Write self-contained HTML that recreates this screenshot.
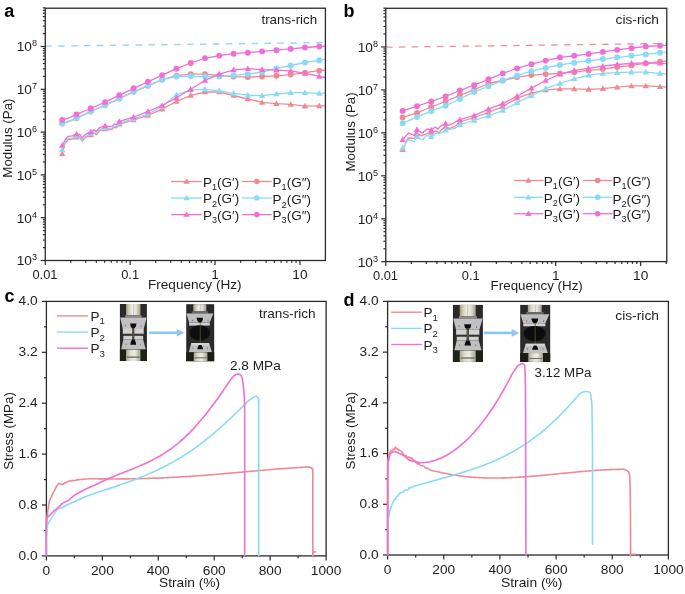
<!DOCTYPE html>
<html><head><meta charset="utf-8"><style>
html,body{margin:0;padding:0;background:#fff;}
svg{display:block;will-change:transform;}
text{font-family:"Liberation Sans", sans-serif;}
</style></head><body>
<svg width="685" height="594" viewBox="0 0 685 594">
<rect width="685" height="594" fill="#fff"/>
<defs>
<clipPath id="ca"><rect x="45.25" y="8.2" width="280.15" height="252.3"/></clipPath>
<clipPath id="cb"><rect x="385.8" y="8.3" width="280.99999999999994" height="253.3"/></clipPath>
</defs>
<line x1="45.25" y1="46.2" x2="325.4" y2="42.6" stroke="#8ED9F6" stroke-width="1.4" stroke-dasharray="6.45 6.45"/>
<line x1="386.2" y1="47.2" x2="666.8" y2="43.5" stroke="#EE9098" stroke-width="1.3" stroke-dasharray="6.5 6.2"/>
<polyline points="62.2,153.8 65.1,143 68.2,139.5 72.6,139 76.48,137.2 80,137.7 82.2,141.1 85.3,137.7 88.8,135.8 90.76,134.8 93.6,132.9 96.2,134.7 99.7,130.7 105.04,128.8 108.9,129.8 112,129.4 114.5,127.1 116.5,127.8 119.32,124.2 133.6,119.8 147.88,115.4 162.16,109.1 176.44,101.5 190.72,95.3 205,92 219.28,92 233.56,95.5 247.84,99 262.12,102.4 276.4,103.6 290.68,104.4 304.96,106.1 319.24,105.8 325.4,105.8" fill="none" stroke="#EF8A92" stroke-width="1.3" stroke-linejoin="round" stroke-linecap="round" clip-path="url(#ca)"/>
<polygon points="62.2,150.55 65.4,156.15 59,156.15" fill="#EF8A92"/>
<polygon points="76.48,133.95 79.68,139.55 73.28,139.55" fill="#EF8A92"/>
<polygon points="90.76,131.55 93.96,137.15 87.56,137.15" fill="#EF8A92"/>
<polygon points="105.04,125.55 108.24,131.15 101.84,131.15" fill="#EF8A92"/>
<polygon points="119.32,120.95 122.52,126.55 116.12,126.55" fill="#EF8A92"/>
<polygon points="133.6,116.55 136.8,122.15 130.4,122.15" fill="#EF8A92"/>
<polygon points="147.88,112.15 151.08,117.75 144.68,117.75" fill="#EF8A92"/>
<polygon points="162.16,105.85 165.36,111.45 158.96,111.45" fill="#EF8A92"/>
<polygon points="176.44,98.25 179.64,103.85 173.24,103.85" fill="#EF8A92"/>
<polygon points="190.72,92.05 193.92,97.65 187.52,97.65" fill="#EF8A92"/>
<polygon points="205,88.75 208.2,94.35 201.8,94.35" fill="#EF8A92"/>
<polygon points="219.28,88.75 222.48,94.35 216.08,94.35" fill="#EF8A92"/>
<polygon points="233.56,92.25 236.76,97.85 230.36,97.85" fill="#EF8A92"/>
<polygon points="247.84,95.75 251.04,101.35 244.64,101.35" fill="#EF8A92"/>
<polygon points="262.12,99.15 265.32,104.75 258.92,104.75" fill="#EF8A92"/>
<polygon points="276.4,100.35 279.6,105.95 273.2,105.95" fill="#EF8A92"/>
<polygon points="290.68,101.15 293.88,106.75 287.48,106.75" fill="#EF8A92"/>
<polygon points="304.96,102.85 308.16,108.45 301.76,108.45" fill="#EF8A92"/>
<polygon points="319.24,102.55 322.44,108.15 316.04,108.15" fill="#EF8A92"/>
<polyline points="62.2,123.5 67.8,121.8 76.48,118.3 90.76,111.5 105.04,105.3 119.32,98.6 133.6,91.8 147.88,85.8 162.16,79.6 176.44,75.6 190.72,74.1 205,74.1 219.28,75.5 233.56,76.6 247.84,77.1 262.12,76.5 276.4,75.8 290.68,74.6 304.96,72.6 319.24,70.7 325.4,70.1" fill="none" stroke="#EF8A92" stroke-width="1.3" stroke-linejoin="round" stroke-linecap="round" clip-path="url(#ca)"/>
<circle cx="62.2" cy="123.5" r="2.95" fill="#EF8A92"/>
<circle cx="76.48" cy="118.3" r="2.95" fill="#EF8A92"/>
<circle cx="90.76" cy="111.5" r="2.95" fill="#EF8A92"/>
<circle cx="105.04" cy="105.3" r="2.95" fill="#EF8A92"/>
<circle cx="119.32" cy="98.6" r="2.95" fill="#EF8A92"/>
<circle cx="133.6" cy="91.8" r="2.95" fill="#EF8A92"/>
<circle cx="147.88" cy="85.8" r="2.95" fill="#EF8A92"/>
<circle cx="162.16" cy="79.6" r="2.95" fill="#EF8A92"/>
<circle cx="176.44" cy="75.6" r="2.95" fill="#EF8A92"/>
<circle cx="190.72" cy="74.1" r="2.95" fill="#EF8A92"/>
<circle cx="205" cy="74.1" r="2.95" fill="#EF8A92"/>
<circle cx="219.28" cy="75.5" r="2.95" fill="#EF8A92"/>
<circle cx="233.56" cy="76.6" r="2.95" fill="#EF8A92"/>
<circle cx="247.84" cy="77.1" r="2.95" fill="#EF8A92"/>
<circle cx="262.12" cy="76.5" r="2.95" fill="#EF8A92"/>
<circle cx="276.4" cy="75.8" r="2.95" fill="#EF8A92"/>
<circle cx="290.68" cy="74.6" r="2.95" fill="#EF8A92"/>
<circle cx="304.96" cy="72.6" r="2.95" fill="#EF8A92"/>
<circle cx="319.24" cy="70.7" r="2.95" fill="#EF8A92"/>
<polyline points="62.2,149.9 65.1,141.8 68.2,138.3 72.6,137.8 76.48,136 80,136.5 82.2,139.9 85.3,136.5 88.8,134.6 90.76,133.6 93.6,131.7 96.2,133.5 99.7,129.5 105.04,127.6 108.9,128.6 112,128.2 114.5,125.9 116.5,126.6 119.32,123 133.6,118.8 147.88,114 162.16,106.6 176.44,94.8 190.72,89.8 205,89.3 219.28,90.6 233.56,93.3 247.84,95.2 262.12,95.7 276.4,94 290.68,92.6 304.96,92.6 319.24,93.3 325.4,93.1" fill="none" stroke="#89DAF7" stroke-width="1.3" stroke-linejoin="round" stroke-linecap="round" clip-path="url(#ca)"/>
<polygon points="62.2,146.65 65.4,152.25 59,152.25" fill="#89DAF7"/>
<polygon points="76.48,132.75 79.68,138.35 73.28,138.35" fill="#89DAF7"/>
<polygon points="90.76,130.35 93.96,135.95 87.56,135.95" fill="#89DAF7"/>
<polygon points="105.04,124.35 108.24,129.95 101.84,129.95" fill="#89DAF7"/>
<polygon points="119.32,119.75 122.52,125.35 116.12,125.35" fill="#89DAF7"/>
<polygon points="133.6,115.55 136.8,121.15 130.4,121.15" fill="#89DAF7"/>
<polygon points="147.88,110.75 151.08,116.35 144.68,116.35" fill="#89DAF7"/>
<polygon points="162.16,103.35 165.36,108.95 158.96,108.95" fill="#89DAF7"/>
<polygon points="176.44,91.55 179.64,97.15 173.24,97.15" fill="#89DAF7"/>
<polygon points="190.72,86.55 193.92,92.15 187.52,92.15" fill="#89DAF7"/>
<polygon points="205,86.05 208.2,91.65 201.8,91.65" fill="#89DAF7"/>
<polygon points="219.28,87.35 222.48,92.95 216.08,92.95" fill="#89DAF7"/>
<polygon points="233.56,90.05 236.76,95.65 230.36,95.65" fill="#89DAF7"/>
<polygon points="247.84,91.95 251.04,97.55 244.64,97.55" fill="#89DAF7"/>
<polygon points="262.12,92.45 265.32,98.05 258.92,98.05" fill="#89DAF7"/>
<polygon points="276.4,90.75 279.6,96.35 273.2,96.35" fill="#89DAF7"/>
<polygon points="290.68,89.35 293.88,94.95 287.48,94.95" fill="#89DAF7"/>
<polygon points="304.96,89.35 308.16,94.95 301.76,94.95" fill="#89DAF7"/>
<polygon points="319.24,90.05 322.44,95.65 316.04,95.65" fill="#89DAF7"/>
<polyline points="62.2,123.3 67.8,121.6 76.48,118.1 90.76,111.3 105.04,105.1 119.32,98.4 133.6,91.6 147.88,85.6 162.16,79.7 176.44,76.5 190.72,76.3 205,76.5 219.28,76.6 233.56,75.4 247.84,74.1 262.12,72.1 276.4,68.4 290.68,65.5 304.96,62.5 319.24,60.3 325.4,59.1" fill="none" stroke="#89DAF7" stroke-width="1.3" stroke-linejoin="round" stroke-linecap="round" clip-path="url(#ca)"/>
<circle cx="62.2" cy="123.3" r="2.95" fill="#89DAF7"/>
<circle cx="76.48" cy="118.1" r="2.95" fill="#89DAF7"/>
<circle cx="90.76" cy="111.3" r="2.95" fill="#89DAF7"/>
<circle cx="105.04" cy="105.1" r="2.95" fill="#89DAF7"/>
<circle cx="119.32" cy="98.4" r="2.95" fill="#89DAF7"/>
<circle cx="133.6" cy="91.6" r="2.95" fill="#89DAF7"/>
<circle cx="147.88" cy="85.6" r="2.95" fill="#89DAF7"/>
<circle cx="162.16" cy="79.7" r="2.95" fill="#89DAF7"/>
<circle cx="176.44" cy="76.5" r="2.95" fill="#89DAF7"/>
<circle cx="190.72" cy="76.3" r="2.95" fill="#89DAF7"/>
<circle cx="205" cy="76.5" r="2.95" fill="#89DAF7"/>
<circle cx="219.28" cy="76.6" r="2.95" fill="#89DAF7"/>
<circle cx="233.56" cy="75.4" r="2.95" fill="#89DAF7"/>
<circle cx="247.84" cy="74.1" r="2.95" fill="#89DAF7"/>
<circle cx="262.12" cy="72.1" r="2.95" fill="#89DAF7"/>
<circle cx="276.4" cy="68.4" r="2.95" fill="#89DAF7"/>
<circle cx="290.68" cy="65.5" r="2.95" fill="#89DAF7"/>
<circle cx="304.96" cy="62.5" r="2.95" fill="#89DAF7"/>
<circle cx="319.24" cy="60.3" r="2.95" fill="#89DAF7"/>
<polyline points="62.2,145.5 65.1,139.8 68.2,136.3 72.6,135.8 76.48,134.1 80,134.5 82.2,137.9 85.3,134.5 88.8,132.6 90.76,131.9 93.6,129.7 96.2,131.5 99.7,127.5 105.04,125.8 108.9,126.6 112,126.2 114.5,123.9 116.5,124.6 119.32,121.4 133.6,117.2 147.88,111.5 162.16,105.4 176.44,97.8 190.72,89.3 205,80.5 219.28,74.1 233.56,69.8 247.84,68.7 262.12,69.6 276.4,70.1 290.68,70.9 304.96,73.3 319.24,76.3 325.4,77.5" fill="none" stroke="#F26ED5" stroke-width="1.3" stroke-linejoin="round" stroke-linecap="round" clip-path="url(#ca)"/>
<polygon points="62.2,142.25 65.4,147.85 59,147.85" fill="#F26ED5"/>
<polygon points="76.48,130.85 79.68,136.45 73.28,136.45" fill="#F26ED5"/>
<polygon points="90.76,128.65 93.96,134.25 87.56,134.25" fill="#F26ED5"/>
<polygon points="105.04,122.55 108.24,128.15 101.84,128.15" fill="#F26ED5"/>
<polygon points="119.32,118.15 122.52,123.75 116.12,123.75" fill="#F26ED5"/>
<polygon points="133.6,113.95 136.8,119.55 130.4,119.55" fill="#F26ED5"/>
<polygon points="147.88,108.25 151.08,113.85 144.68,113.85" fill="#F26ED5"/>
<polygon points="162.16,102.15 165.36,107.75 158.96,107.75" fill="#F26ED5"/>
<polygon points="176.44,94.55 179.64,100.15 173.24,100.15" fill="#F26ED5"/>
<polygon points="190.72,86.05 193.92,91.65 187.52,91.65" fill="#F26ED5"/>
<polygon points="205,77.25 208.2,82.85 201.8,82.85" fill="#F26ED5"/>
<polygon points="219.28,70.85 222.48,76.45 216.08,76.45" fill="#F26ED5"/>
<polygon points="233.56,66.55 236.76,72.15 230.36,72.15" fill="#F26ED5"/>
<polygon points="247.84,65.45 251.04,71.05 244.64,71.05" fill="#F26ED5"/>
<polygon points="262.12,66.35 265.32,71.95 258.92,71.95" fill="#F26ED5"/>
<polygon points="276.4,66.85 279.6,72.45 273.2,72.45" fill="#F26ED5"/>
<polygon points="290.68,67.65 293.88,73.25 287.48,73.25" fill="#F26ED5"/>
<polygon points="304.96,70.05 308.16,75.65 301.76,75.65" fill="#F26ED5"/>
<polygon points="319.24,73.05 322.44,78.65 316.04,78.65" fill="#F26ED5"/>
<polyline points="62.2,120 67.8,118.4 76.48,114.4 90.76,108.5 105.04,102.1 119.32,95.2 133.6,88.3 147.88,81.8 162.16,75.1 176.44,68.7 190.72,63 205,58.3 219.28,55.6 233.56,53.7 247.84,52.7 262.12,51.4 276.4,50.2 290.68,48.9 304.96,47.5 319.24,46.5 325.4,46.2" fill="none" stroke="#F26ED5" stroke-width="1.3" stroke-linejoin="round" stroke-linecap="round" clip-path="url(#ca)"/>
<circle cx="62.2" cy="120" r="2.95" fill="#F26ED5"/>
<circle cx="76.48" cy="114.4" r="2.95" fill="#F26ED5"/>
<circle cx="90.76" cy="108.5" r="2.95" fill="#F26ED5"/>
<circle cx="105.04" cy="102.1" r="2.95" fill="#F26ED5"/>
<circle cx="119.32" cy="95.2" r="2.95" fill="#F26ED5"/>
<circle cx="133.6" cy="88.3" r="2.95" fill="#F26ED5"/>
<circle cx="147.88" cy="81.8" r="2.95" fill="#F26ED5"/>
<circle cx="162.16" cy="75.1" r="2.95" fill="#F26ED5"/>
<circle cx="176.44" cy="68.7" r="2.95" fill="#F26ED5"/>
<circle cx="190.72" cy="63" r="2.95" fill="#F26ED5"/>
<circle cx="205" cy="58.3" r="2.95" fill="#F26ED5"/>
<circle cx="219.28" cy="55.6" r="2.95" fill="#F26ED5"/>
<circle cx="233.56" cy="53.7" r="2.95" fill="#F26ED5"/>
<circle cx="247.84" cy="52.7" r="2.95" fill="#F26ED5"/>
<circle cx="262.12" cy="51.4" r="2.95" fill="#F26ED5"/>
<circle cx="276.4" cy="50.2" r="2.95" fill="#F26ED5"/>
<circle cx="290.68" cy="48.9" r="2.95" fill="#F26ED5"/>
<circle cx="304.96" cy="47.5" r="2.95" fill="#F26ED5"/>
<circle cx="319.24" cy="46.5" r="2.95" fill="#F26ED5"/>
<polyline points="402.65,149.6 408.1,138 414.3,138.4 416.95,134 421.3,135.8 428.3,133.1 431.25,132.3 436.2,131 438.8,132.7 442.7,128.8 445.55,127 449.3,128.3 455,126.6 459.85,122 474.15,117.5 488.45,112.5 502.75,106.6 517.05,98.2 531.35,93.1 545.65,89.8 559.95,88.9 574.25,88.9 588.55,89.3 602.85,88.6 617.15,87.2 631.45,85.9 645.75,85.9 660.05,86.7 666.8,87.2" fill="none" stroke="#EF8A92" stroke-width="1.3" stroke-linejoin="round" stroke-linecap="round" clip-path="url(#cb)"/>
<polygon points="402.65,146.35 405.85,151.95 399.45,151.95" fill="#EF8A92"/>
<polygon points="416.95,130.75 420.15,136.35 413.75,136.35" fill="#EF8A92"/>
<polygon points="431.25,129.05 434.45,134.65 428.05,134.65" fill="#EF8A92"/>
<polygon points="445.55,123.75 448.75,129.35 442.35,129.35" fill="#EF8A92"/>
<polygon points="459.85,118.75 463.05,124.35 456.65,124.35" fill="#EF8A92"/>
<polygon points="474.15,114.25 477.35,119.85 470.95,119.85" fill="#EF8A92"/>
<polygon points="488.45,109.25 491.65,114.85 485.25,114.85" fill="#EF8A92"/>
<polygon points="502.75,103.35 505.95,108.95 499.55,108.95" fill="#EF8A92"/>
<polygon points="517.05,94.95 520.25,100.55 513.85,100.55" fill="#EF8A92"/>
<polygon points="531.35,89.85 534.55,95.45 528.15,95.45" fill="#EF8A92"/>
<polygon points="545.65,86.55 548.85,92.15 542.45,92.15" fill="#EF8A92"/>
<polygon points="559.95,85.65 563.15,91.25 556.75,91.25" fill="#EF8A92"/>
<polygon points="574.25,85.65 577.45,91.25 571.05,91.25" fill="#EF8A92"/>
<polygon points="588.55,86.05 591.75,91.65 585.35,91.65" fill="#EF8A92"/>
<polygon points="602.85,85.35 606.05,90.95 599.65,90.95" fill="#EF8A92"/>
<polygon points="617.15,83.95 620.35,89.55 613.95,89.55" fill="#EF8A92"/>
<polygon points="631.45,82.65 634.65,88.25 628.25,88.25" fill="#EF8A92"/>
<polygon points="645.75,82.65 648.95,88.25 642.55,88.25" fill="#EF8A92"/>
<polygon points="660.05,83.45 663.25,89.05 656.85,89.05" fill="#EF8A92"/>
<polyline points="402.65,117.5 416.95,112.9 431.25,107 445.55,101.5 459.85,95.3 474.15,89.7 488.45,83.5 502.75,80.5 517.05,77.1 531.35,75.1 545.65,74.1 559.95,73.4 574.25,72.2 588.55,70.4 602.85,69.1 617.15,67 631.45,65.4 645.75,63.3 660.05,61.6 666.8,61.1" fill="none" stroke="#EF8A92" stroke-width="1.3" stroke-linejoin="round" stroke-linecap="round" clip-path="url(#cb)"/>
<circle cx="402.65" cy="117.5" r="2.95" fill="#EF8A92"/>
<circle cx="416.95" cy="112.9" r="2.95" fill="#EF8A92"/>
<circle cx="431.25" cy="107" r="2.95" fill="#EF8A92"/>
<circle cx="445.55" cy="101.5" r="2.95" fill="#EF8A92"/>
<circle cx="459.85" cy="95.3" r="2.95" fill="#EF8A92"/>
<circle cx="474.15" cy="89.7" r="2.95" fill="#EF8A92"/>
<circle cx="488.45" cy="83.5" r="2.95" fill="#EF8A92"/>
<circle cx="502.75" cy="80.5" r="2.95" fill="#EF8A92"/>
<circle cx="517.05" cy="77.1" r="2.95" fill="#EF8A92"/>
<circle cx="531.35" cy="75.1" r="2.95" fill="#EF8A92"/>
<circle cx="545.65" cy="74.1" r="2.95" fill="#EF8A92"/>
<circle cx="559.95" cy="73.4" r="2.95" fill="#EF8A92"/>
<circle cx="574.25" cy="72.2" r="2.95" fill="#EF8A92"/>
<circle cx="588.55" cy="70.4" r="2.95" fill="#EF8A92"/>
<circle cx="602.85" cy="69.1" r="2.95" fill="#EF8A92"/>
<circle cx="617.15" cy="67" r="2.95" fill="#EF8A92"/>
<circle cx="631.45" cy="65.4" r="2.95" fill="#EF8A92"/>
<circle cx="645.75" cy="63.3" r="2.95" fill="#EF8A92"/>
<circle cx="660.05" cy="61.6" r="2.95" fill="#EF8A92"/>
<polyline points="402.65,148 408.1,139.7 414.3,141.9 416.95,136.6 420.4,138.8 423,139.3 426.5,135.3 431.25,136.6 436.2,133.1 438.8,133.6 443.2,131.8 445.55,130.1 449.3,129.6 455,128.3 459.85,124.7 474.15,120.5 488.45,115.9 502.75,110.5 517.05,102.7 531.35,95.7 545.65,88.6 559.95,83.5 574.25,78.8 588.55,75.1 602.85,73.4 617.15,72.6 631.45,72.1 645.75,72.1 660.05,73.3 666.8,74.1" fill="none" stroke="#89DAF7" stroke-width="1.3" stroke-linejoin="round" stroke-linecap="round" clip-path="url(#cb)"/>
<polygon points="402.65,144.75 405.85,150.35 399.45,150.35" fill="#89DAF7"/>
<polygon points="416.95,133.35 420.15,138.95 413.75,138.95" fill="#89DAF7"/>
<polygon points="431.25,133.35 434.45,138.95 428.05,138.95" fill="#89DAF7"/>
<polygon points="445.55,126.85 448.75,132.45 442.35,132.45" fill="#89DAF7"/>
<polygon points="459.85,121.45 463.05,127.05 456.65,127.05" fill="#89DAF7"/>
<polygon points="474.15,117.25 477.35,122.85 470.95,122.85" fill="#89DAF7"/>
<polygon points="488.45,112.65 491.65,118.25 485.25,118.25" fill="#89DAF7"/>
<polygon points="502.75,107.25 505.95,112.85 499.55,112.85" fill="#89DAF7"/>
<polygon points="517.05,99.45 520.25,105.05 513.85,105.05" fill="#89DAF7"/>
<polygon points="531.35,92.45 534.55,98.05 528.15,98.05" fill="#89DAF7"/>
<polygon points="545.65,85.35 548.85,90.95 542.45,90.95" fill="#89DAF7"/>
<polygon points="559.95,80.25 563.15,85.85 556.75,85.85" fill="#89DAF7"/>
<polygon points="574.25,75.55 577.45,81.15 571.05,81.15" fill="#89DAF7"/>
<polygon points="588.55,71.85 591.75,77.45 585.35,77.45" fill="#89DAF7"/>
<polygon points="602.85,70.15 606.05,75.75 599.65,75.75" fill="#89DAF7"/>
<polygon points="617.15,69.35 620.35,74.95 613.95,74.95" fill="#89DAF7"/>
<polygon points="631.45,68.85 634.65,74.45 628.25,74.45" fill="#89DAF7"/>
<polygon points="645.75,68.85 648.95,74.45 642.55,74.45" fill="#89DAF7"/>
<polygon points="660.05,70.05 663.25,75.65 656.85,75.65" fill="#89DAF7"/>
<polyline points="402.65,123.2 416.95,117.1 431.25,111.2 445.55,105.7 459.85,99 474.15,91.9 488.45,86.3 502.75,80.5 517.05,75.5 531.35,71.2 545.65,67.9 559.95,65 574.25,62.7 588.55,60.8 602.85,59 617.15,57.3 631.45,55.8 645.75,54.4 660.05,52.7 666.8,52.2" fill="none" stroke="#89DAF7" stroke-width="1.3" stroke-linejoin="round" stroke-linecap="round" clip-path="url(#cb)"/>
<circle cx="402.65" cy="123.2" r="2.95" fill="#89DAF7"/>
<circle cx="416.95" cy="117.1" r="2.95" fill="#89DAF7"/>
<circle cx="431.25" cy="111.2" r="2.95" fill="#89DAF7"/>
<circle cx="445.55" cy="105.7" r="2.95" fill="#89DAF7"/>
<circle cx="459.85" cy="99" r="2.95" fill="#89DAF7"/>
<circle cx="474.15" cy="91.9" r="2.95" fill="#89DAF7"/>
<circle cx="488.45" cy="86.3" r="2.95" fill="#89DAF7"/>
<circle cx="502.75" cy="80.5" r="2.95" fill="#89DAF7"/>
<circle cx="517.05" cy="75.5" r="2.95" fill="#89DAF7"/>
<circle cx="531.35" cy="71.2" r="2.95" fill="#89DAF7"/>
<circle cx="545.65" cy="67.9" r="2.95" fill="#89DAF7"/>
<circle cx="559.95" cy="65" r="2.95" fill="#89DAF7"/>
<circle cx="574.25" cy="62.7" r="2.95" fill="#89DAF7"/>
<circle cx="588.55" cy="60.8" r="2.95" fill="#89DAF7"/>
<circle cx="602.85" cy="59" r="2.95" fill="#89DAF7"/>
<circle cx="617.15" cy="57.3" r="2.95" fill="#89DAF7"/>
<circle cx="631.45" cy="55.8" r="2.95" fill="#89DAF7"/>
<circle cx="645.75" cy="54.4" r="2.95" fill="#89DAF7"/>
<circle cx="660.05" cy="52.7" r="2.95" fill="#89DAF7"/>
<polyline points="402.65,139.7 408.6,133 414.3,135.3 416.95,129.6 420.4,131.8 422.2,133.1 427.4,128.8 431.25,130.1 435.3,127 437.9,129.2 440.5,126.1 445.55,123.5 448.4,125.3 452,123.9 455,122.2 459.85,119.7 474.15,115.5 488.45,109.1 502.75,103.6 517.05,96.2 531.35,88.1 545.65,80.5 559.95,74.1 574.25,70.4 588.55,68.4 602.85,66.2 617.15,64.5 631.45,63.3 645.75,62.8 660.05,63.2 666.8,63.7" fill="none" stroke="#F26ED5" stroke-width="1.3" stroke-linejoin="round" stroke-linecap="round" clip-path="url(#cb)"/>
<polygon points="402.65,136.45 405.85,142.05 399.45,142.05" fill="#F26ED5"/>
<polygon points="416.95,126.35 420.15,131.95 413.75,131.95" fill="#F26ED5"/>
<polygon points="431.25,126.85 434.45,132.45 428.05,132.45" fill="#F26ED5"/>
<polygon points="445.55,120.25 448.75,125.85 442.35,125.85" fill="#F26ED5"/>
<polygon points="459.85,116.45 463.05,122.05 456.65,122.05" fill="#F26ED5"/>
<polygon points="474.15,112.25 477.35,117.85 470.95,117.85" fill="#F26ED5"/>
<polygon points="488.45,105.85 491.65,111.45 485.25,111.45" fill="#F26ED5"/>
<polygon points="502.75,100.35 505.95,105.95 499.55,105.95" fill="#F26ED5"/>
<polygon points="517.05,92.95 520.25,98.55 513.85,98.55" fill="#F26ED5"/>
<polygon points="531.35,84.85 534.55,90.45 528.15,90.45" fill="#F26ED5"/>
<polygon points="545.65,77.25 548.85,82.85 542.45,82.85" fill="#F26ED5"/>
<polygon points="559.95,70.85 563.15,76.45 556.75,76.45" fill="#F26ED5"/>
<polygon points="574.25,67.15 577.45,72.75 571.05,72.75" fill="#F26ED5"/>
<polygon points="588.55,65.15 591.75,70.75 585.35,70.75" fill="#F26ED5"/>
<polygon points="602.85,62.95 606.05,68.55 599.65,68.55" fill="#F26ED5"/>
<polygon points="617.15,61.25 620.35,66.85 613.95,66.85" fill="#F26ED5"/>
<polygon points="631.45,60.05 634.65,65.65 628.25,65.65" fill="#F26ED5"/>
<polygon points="645.75,59.55 648.95,65.15 642.55,65.15" fill="#F26ED5"/>
<polygon points="660.05,59.95 663.25,65.55 656.85,65.55" fill="#F26ED5"/>
<polyline points="402.65,110.9 416.95,106.2 431.25,101.5 445.55,96.4 459.85,90.5 474.15,85.2 488.45,79.3 502.75,73.4 517.05,68.4 531.35,64.2 545.65,60.6 559.95,57.4 574.25,55.8 588.55,53.9 602.85,51.9 617.15,49.9 631.45,48.2 645.75,46.5 660.05,45.7 666.8,45.2" fill="none" stroke="#F26ED5" stroke-width="1.3" stroke-linejoin="round" stroke-linecap="round" clip-path="url(#cb)"/>
<circle cx="402.65" cy="110.9" r="2.95" fill="#F26ED5"/>
<circle cx="416.95" cy="106.2" r="2.95" fill="#F26ED5"/>
<circle cx="431.25" cy="101.5" r="2.95" fill="#F26ED5"/>
<circle cx="445.55" cy="96.4" r="2.95" fill="#F26ED5"/>
<circle cx="459.85" cy="90.5" r="2.95" fill="#F26ED5"/>
<circle cx="474.15" cy="85.2" r="2.95" fill="#F26ED5"/>
<circle cx="488.45" cy="79.3" r="2.95" fill="#F26ED5"/>
<circle cx="502.75" cy="73.4" r="2.95" fill="#F26ED5"/>
<circle cx="517.05" cy="68.4" r="2.95" fill="#F26ED5"/>
<circle cx="531.35" cy="64.2" r="2.95" fill="#F26ED5"/>
<circle cx="545.65" cy="60.6" r="2.95" fill="#F26ED5"/>
<circle cx="559.95" cy="57.4" r="2.95" fill="#F26ED5"/>
<circle cx="574.25" cy="55.8" r="2.95" fill="#F26ED5"/>
<circle cx="588.55" cy="53.9" r="2.95" fill="#F26ED5"/>
<circle cx="602.85" cy="51.9" r="2.95" fill="#F26ED5"/>
<circle cx="617.15" cy="49.9" r="2.95" fill="#F26ED5"/>
<circle cx="631.45" cy="48.2" r="2.95" fill="#F26ED5"/>
<circle cx="645.75" cy="46.5" r="2.95" fill="#F26ED5"/>
<circle cx="660.05" cy="45.7" r="2.95" fill="#F26ED5"/>
<line x1="40.65" y1="260.5" x2="45.25" y2="260.5" stroke="#2a2a2a" stroke-width="1.2" />
<line x1="42.85" y1="247.62" x2="45.25" y2="247.62" stroke="#2a2a2a" stroke-width="1.2" />
<line x1="42.85" y1="240.08" x2="45.25" y2="240.08" stroke="#2a2a2a" stroke-width="1.2" />
<line x1="42.85" y1="234.73" x2="45.25" y2="234.73" stroke="#2a2a2a" stroke-width="1.2" />
<line x1="42.85" y1="230.58" x2="45.25" y2="230.58" stroke="#2a2a2a" stroke-width="1.2" />
<line x1="42.85" y1="227.2" x2="45.25" y2="227.2" stroke="#2a2a2a" stroke-width="1.2" />
<line x1="42.85" y1="224.33" x2="45.25" y2="224.33" stroke="#2a2a2a" stroke-width="1.2" />
<line x1="42.85" y1="221.85" x2="45.25" y2="221.85" stroke="#2a2a2a" stroke-width="1.2" />
<line x1="42.85" y1="219.66" x2="45.25" y2="219.66" stroke="#2a2a2a" stroke-width="1.2" />
<text transform="translate(32,265.3) scale(1.055,1)" font-size="13" text-anchor="end" font-weight="normal" fill="#1e1e1e" >10</text>
<text transform="translate(32.1,260.3) scale(1.055,1)" font-size="8.6" text-anchor="start" font-weight="normal" fill="#1e1e1e" >3</text>
<line x1="40.65" y1="217.7" x2="45.25" y2="217.7" stroke="#2a2a2a" stroke-width="1.2" />
<line x1="42.85" y1="204.82" x2="45.25" y2="204.82" stroke="#2a2a2a" stroke-width="1.2" />
<line x1="42.85" y1="197.28" x2="45.25" y2="197.28" stroke="#2a2a2a" stroke-width="1.2" />
<line x1="42.85" y1="191.93" x2="45.25" y2="191.93" stroke="#2a2a2a" stroke-width="1.2" />
<line x1="42.85" y1="187.78" x2="45.25" y2="187.78" stroke="#2a2a2a" stroke-width="1.2" />
<line x1="42.85" y1="184.4" x2="45.25" y2="184.4" stroke="#2a2a2a" stroke-width="1.2" />
<line x1="42.85" y1="181.53" x2="45.25" y2="181.53" stroke="#2a2a2a" stroke-width="1.2" />
<line x1="42.85" y1="179.05" x2="45.25" y2="179.05" stroke="#2a2a2a" stroke-width="1.2" />
<line x1="42.85" y1="176.86" x2="45.25" y2="176.86" stroke="#2a2a2a" stroke-width="1.2" />
<text transform="translate(32,222.5) scale(1.055,1)" font-size="13" text-anchor="end" font-weight="normal" fill="#1e1e1e" >10</text>
<text transform="translate(32.1,217.5) scale(1.055,1)" font-size="8.6" text-anchor="start" font-weight="normal" fill="#1e1e1e" >4</text>
<line x1="40.65" y1="174.9" x2="45.25" y2="174.9" stroke="#2a2a2a" stroke-width="1.2" />
<line x1="42.85" y1="162.02" x2="45.25" y2="162.02" stroke="#2a2a2a" stroke-width="1.2" />
<line x1="42.85" y1="154.48" x2="45.25" y2="154.48" stroke="#2a2a2a" stroke-width="1.2" />
<line x1="42.85" y1="149.13" x2="45.25" y2="149.13" stroke="#2a2a2a" stroke-width="1.2" />
<line x1="42.85" y1="144.98" x2="45.25" y2="144.98" stroke="#2a2a2a" stroke-width="1.2" />
<line x1="42.85" y1="141.6" x2="45.25" y2="141.6" stroke="#2a2a2a" stroke-width="1.2" />
<line x1="42.85" y1="138.73" x2="45.25" y2="138.73" stroke="#2a2a2a" stroke-width="1.2" />
<line x1="42.85" y1="136.25" x2="45.25" y2="136.25" stroke="#2a2a2a" stroke-width="1.2" />
<line x1="42.85" y1="134.06" x2="45.25" y2="134.06" stroke="#2a2a2a" stroke-width="1.2" />
<text transform="translate(32,179.7) scale(1.055,1)" font-size="13" text-anchor="end" font-weight="normal" fill="#1e1e1e" >10</text>
<text transform="translate(32.1,174.7) scale(1.055,1)" font-size="8.6" text-anchor="start" font-weight="normal" fill="#1e1e1e" >5</text>
<line x1="40.65" y1="132.1" x2="45.25" y2="132.1" stroke="#2a2a2a" stroke-width="1.2" />
<line x1="42.85" y1="119.22" x2="45.25" y2="119.22" stroke="#2a2a2a" stroke-width="1.2" />
<line x1="42.85" y1="111.68" x2="45.25" y2="111.68" stroke="#2a2a2a" stroke-width="1.2" />
<line x1="42.85" y1="106.33" x2="45.25" y2="106.33" stroke="#2a2a2a" stroke-width="1.2" />
<line x1="42.85" y1="102.18" x2="45.25" y2="102.18" stroke="#2a2a2a" stroke-width="1.2" />
<line x1="42.85" y1="98.8" x2="45.25" y2="98.8" stroke="#2a2a2a" stroke-width="1.2" />
<line x1="42.85" y1="95.93" x2="45.25" y2="95.93" stroke="#2a2a2a" stroke-width="1.2" />
<line x1="42.85" y1="93.45" x2="45.25" y2="93.45" stroke="#2a2a2a" stroke-width="1.2" />
<line x1="42.85" y1="91.26" x2="45.25" y2="91.26" stroke="#2a2a2a" stroke-width="1.2" />
<text transform="translate(32,136.9) scale(1.055,1)" font-size="13" text-anchor="end" font-weight="normal" fill="#1e1e1e" >10</text>
<text transform="translate(32.1,131.9) scale(1.055,1)" font-size="8.6" text-anchor="start" font-weight="normal" fill="#1e1e1e" >6</text>
<line x1="40.65" y1="89.3" x2="45.25" y2="89.3" stroke="#2a2a2a" stroke-width="1.2" />
<line x1="42.85" y1="76.42" x2="45.25" y2="76.42" stroke="#2a2a2a" stroke-width="1.2" />
<line x1="42.85" y1="68.88" x2="45.25" y2="68.88" stroke="#2a2a2a" stroke-width="1.2" />
<line x1="42.85" y1="63.53" x2="45.25" y2="63.53" stroke="#2a2a2a" stroke-width="1.2" />
<line x1="42.85" y1="59.38" x2="45.25" y2="59.38" stroke="#2a2a2a" stroke-width="1.2" />
<line x1="42.85" y1="56" x2="45.25" y2="56" stroke="#2a2a2a" stroke-width="1.2" />
<line x1="42.85" y1="53.13" x2="45.25" y2="53.13" stroke="#2a2a2a" stroke-width="1.2" />
<line x1="42.85" y1="50.65" x2="45.25" y2="50.65" stroke="#2a2a2a" stroke-width="1.2" />
<line x1="42.85" y1="48.46" x2="45.25" y2="48.46" stroke="#2a2a2a" stroke-width="1.2" />
<text transform="translate(32,94.1) scale(1.055,1)" font-size="13" text-anchor="end" font-weight="normal" fill="#1e1e1e" >10</text>
<text transform="translate(32.1,89.1) scale(1.055,1)" font-size="8.6" text-anchor="start" font-weight="normal" fill="#1e1e1e" >7</text>
<line x1="40.65" y1="46.5" x2="45.25" y2="46.5" stroke="#2a2a2a" stroke-width="1.2" />
<line x1="42.85" y1="33.62" x2="45.25" y2="33.62" stroke="#2a2a2a" stroke-width="1.2" />
<line x1="42.85" y1="26.08" x2="45.25" y2="26.08" stroke="#2a2a2a" stroke-width="1.2" />
<line x1="42.85" y1="20.73" x2="45.25" y2="20.73" stroke="#2a2a2a" stroke-width="1.2" />
<line x1="42.85" y1="16.58" x2="45.25" y2="16.58" stroke="#2a2a2a" stroke-width="1.2" />
<line x1="42.85" y1="13.2" x2="45.25" y2="13.2" stroke="#2a2a2a" stroke-width="1.2" />
<line x1="42.85" y1="10.33" x2="45.25" y2="10.33" stroke="#2a2a2a" stroke-width="1.2" />
<line x1="42.85" y1="7.85" x2="45.25" y2="7.85" stroke="#2a2a2a" stroke-width="1.2" />
<text transform="translate(32,51.3) scale(1.055,1)" font-size="13" text-anchor="end" font-weight="normal" fill="#1e1e1e" >10</text>
<text transform="translate(32.1,46.3) scale(1.055,1)" font-size="8.6" text-anchor="start" font-weight="normal" fill="#1e1e1e" >8</text>
<line x1="45.25" y1="260.5" x2="45.25" y2="265" stroke="#2a2a2a" stroke-width="1.2" />
<line x1="70.81" y1="260.5" x2="70.81" y2="262.8" stroke="#2a2a2a" stroke-width="1.2" />
<line x1="85.76" y1="260.5" x2="85.76" y2="262.8" stroke="#2a2a2a" stroke-width="1.2" />
<line x1="96.36" y1="260.5" x2="96.36" y2="262.8" stroke="#2a2a2a" stroke-width="1.2" />
<line x1="104.59" y1="260.5" x2="104.59" y2="262.8" stroke="#2a2a2a" stroke-width="1.2" />
<line x1="111.32" y1="260.5" x2="111.32" y2="262.8" stroke="#2a2a2a" stroke-width="1.2" />
<line x1="117" y1="260.5" x2="117" y2="262.8" stroke="#2a2a2a" stroke-width="1.2" />
<line x1="121.92" y1="260.5" x2="121.92" y2="262.8" stroke="#2a2a2a" stroke-width="1.2" />
<line x1="126.27" y1="260.5" x2="126.27" y2="262.8" stroke="#2a2a2a" stroke-width="1.2" />
<line x1="130.15" y1="260.5" x2="130.15" y2="265" stroke="#2a2a2a" stroke-width="1.2" />
<line x1="155.71" y1="260.5" x2="155.71" y2="262.8" stroke="#2a2a2a" stroke-width="1.2" />
<line x1="170.66" y1="260.5" x2="170.66" y2="262.8" stroke="#2a2a2a" stroke-width="1.2" />
<line x1="181.26" y1="260.5" x2="181.26" y2="262.8" stroke="#2a2a2a" stroke-width="1.2" />
<line x1="189.49" y1="260.5" x2="189.49" y2="262.8" stroke="#2a2a2a" stroke-width="1.2" />
<line x1="196.22" y1="260.5" x2="196.22" y2="262.8" stroke="#2a2a2a" stroke-width="1.2" />
<line x1="201.9" y1="260.5" x2="201.9" y2="262.8" stroke="#2a2a2a" stroke-width="1.2" />
<line x1="206.82" y1="260.5" x2="206.82" y2="262.8" stroke="#2a2a2a" stroke-width="1.2" />
<line x1="211.17" y1="260.5" x2="211.17" y2="262.8" stroke="#2a2a2a" stroke-width="1.2" />
<line x1="215.05" y1="260.5" x2="215.05" y2="265" stroke="#2a2a2a" stroke-width="1.2" />
<line x1="240.61" y1="260.5" x2="240.61" y2="262.8" stroke="#2a2a2a" stroke-width="1.2" />
<line x1="255.56" y1="260.5" x2="255.56" y2="262.8" stroke="#2a2a2a" stroke-width="1.2" />
<line x1="266.16" y1="260.5" x2="266.16" y2="262.8" stroke="#2a2a2a" stroke-width="1.2" />
<line x1="274.39" y1="260.5" x2="274.39" y2="262.8" stroke="#2a2a2a" stroke-width="1.2" />
<line x1="281.12" y1="260.5" x2="281.12" y2="262.8" stroke="#2a2a2a" stroke-width="1.2" />
<line x1="286.8" y1="260.5" x2="286.8" y2="262.8" stroke="#2a2a2a" stroke-width="1.2" />
<line x1="291.72" y1="260.5" x2="291.72" y2="262.8" stroke="#2a2a2a" stroke-width="1.2" />
<line x1="296.07" y1="260.5" x2="296.07" y2="262.8" stroke="#2a2a2a" stroke-width="1.2" />
<line x1="299.95" y1="260.5" x2="299.95" y2="265" stroke="#2a2a2a" stroke-width="1.2" />
<text transform="translate(44.95,278.9) scale(0.99,1)" font-size="13" text-anchor="middle" font-weight="normal" fill="#1e1e1e" >0.01</text>
<text transform="translate(130.15,278.9) scale(0.99,1)" font-size="13" text-anchor="middle" font-weight="normal" fill="#1e1e1e" >0.1</text>
<text transform="translate(215.05,278.9) scale(1.055,1)" font-size="13" text-anchor="middle" font-weight="normal" fill="#1e1e1e" >1</text>
<text transform="translate(299.95,278.9) scale(1.055,1)" font-size="13" text-anchor="middle" font-weight="normal" fill="#1e1e1e" >10</text>
<rect x="45.25" y="8.2" width="280.15" height="252.3" fill="none" stroke="#2a2a2a" stroke-width="1.3"/>
<line x1="381.2" y1="261.7" x2="385.8" y2="261.7" stroke="#2a2a2a" stroke-width="1.2" />
<line x1="383.4" y1="248.77" x2="385.8" y2="248.77" stroke="#2a2a2a" stroke-width="1.2" />
<line x1="383.4" y1="241.21" x2="385.8" y2="241.21" stroke="#2a2a2a" stroke-width="1.2" />
<line x1="383.4" y1="235.84" x2="385.8" y2="235.84" stroke="#2a2a2a" stroke-width="1.2" />
<line x1="383.4" y1="231.68" x2="385.8" y2="231.68" stroke="#2a2a2a" stroke-width="1.2" />
<line x1="383.4" y1="228.28" x2="385.8" y2="228.28" stroke="#2a2a2a" stroke-width="1.2" />
<line x1="383.4" y1="225.4" x2="385.8" y2="225.4" stroke="#2a2a2a" stroke-width="1.2" />
<line x1="383.4" y1="222.91" x2="385.8" y2="222.91" stroke="#2a2a2a" stroke-width="1.2" />
<line x1="383.4" y1="220.72" x2="385.8" y2="220.72" stroke="#2a2a2a" stroke-width="1.2" />
<text transform="translate(373,266.5) scale(1.055,1)" font-size="13" text-anchor="end" font-weight="normal" fill="#1e1e1e" >10</text>
<text transform="translate(373.1,261.5) scale(1.055,1)" font-size="8.6" text-anchor="start" font-weight="normal" fill="#1e1e1e" >3</text>
<line x1="381.2" y1="218.75" x2="385.8" y2="218.75" stroke="#2a2a2a" stroke-width="1.2" />
<line x1="383.4" y1="205.82" x2="385.8" y2="205.82" stroke="#2a2a2a" stroke-width="1.2" />
<line x1="383.4" y1="198.26" x2="385.8" y2="198.26" stroke="#2a2a2a" stroke-width="1.2" />
<line x1="383.4" y1="192.89" x2="385.8" y2="192.89" stroke="#2a2a2a" stroke-width="1.2" />
<line x1="383.4" y1="188.73" x2="385.8" y2="188.73" stroke="#2a2a2a" stroke-width="1.2" />
<line x1="383.4" y1="185.33" x2="385.8" y2="185.33" stroke="#2a2a2a" stroke-width="1.2" />
<line x1="383.4" y1="182.45" x2="385.8" y2="182.45" stroke="#2a2a2a" stroke-width="1.2" />
<line x1="383.4" y1="179.96" x2="385.8" y2="179.96" stroke="#2a2a2a" stroke-width="1.2" />
<line x1="383.4" y1="177.77" x2="385.8" y2="177.77" stroke="#2a2a2a" stroke-width="1.2" />
<text transform="translate(373,223.55) scale(1.055,1)" font-size="13" text-anchor="end" font-weight="normal" fill="#1e1e1e" >10</text>
<text transform="translate(373.1,218.55) scale(1.055,1)" font-size="8.6" text-anchor="start" font-weight="normal" fill="#1e1e1e" >4</text>
<line x1="381.2" y1="175.8" x2="385.8" y2="175.8" stroke="#2a2a2a" stroke-width="1.2" />
<line x1="383.4" y1="162.87" x2="385.8" y2="162.87" stroke="#2a2a2a" stroke-width="1.2" />
<line x1="383.4" y1="155.31" x2="385.8" y2="155.31" stroke="#2a2a2a" stroke-width="1.2" />
<line x1="383.4" y1="149.94" x2="385.8" y2="149.94" stroke="#2a2a2a" stroke-width="1.2" />
<line x1="383.4" y1="145.78" x2="385.8" y2="145.78" stroke="#2a2a2a" stroke-width="1.2" />
<line x1="383.4" y1="142.38" x2="385.8" y2="142.38" stroke="#2a2a2a" stroke-width="1.2" />
<line x1="383.4" y1="139.5" x2="385.8" y2="139.5" stroke="#2a2a2a" stroke-width="1.2" />
<line x1="383.4" y1="137.01" x2="385.8" y2="137.01" stroke="#2a2a2a" stroke-width="1.2" />
<line x1="383.4" y1="134.82" x2="385.8" y2="134.82" stroke="#2a2a2a" stroke-width="1.2" />
<text transform="translate(373,180.6) scale(1.055,1)" font-size="13" text-anchor="end" font-weight="normal" fill="#1e1e1e" >10</text>
<text transform="translate(373.1,175.6) scale(1.055,1)" font-size="8.6" text-anchor="start" font-weight="normal" fill="#1e1e1e" >5</text>
<line x1="381.2" y1="132.85" x2="385.8" y2="132.85" stroke="#2a2a2a" stroke-width="1.2" />
<line x1="383.4" y1="119.92" x2="385.8" y2="119.92" stroke="#2a2a2a" stroke-width="1.2" />
<line x1="383.4" y1="112.36" x2="385.8" y2="112.36" stroke="#2a2a2a" stroke-width="1.2" />
<line x1="383.4" y1="106.99" x2="385.8" y2="106.99" stroke="#2a2a2a" stroke-width="1.2" />
<line x1="383.4" y1="102.83" x2="385.8" y2="102.83" stroke="#2a2a2a" stroke-width="1.2" />
<line x1="383.4" y1="99.43" x2="385.8" y2="99.43" stroke="#2a2a2a" stroke-width="1.2" />
<line x1="383.4" y1="96.55" x2="385.8" y2="96.55" stroke="#2a2a2a" stroke-width="1.2" />
<line x1="383.4" y1="94.06" x2="385.8" y2="94.06" stroke="#2a2a2a" stroke-width="1.2" />
<line x1="383.4" y1="91.87" x2="385.8" y2="91.87" stroke="#2a2a2a" stroke-width="1.2" />
<text transform="translate(373,137.65) scale(1.055,1)" font-size="13" text-anchor="end" font-weight="normal" fill="#1e1e1e" >10</text>
<text transform="translate(373.1,132.65) scale(1.055,1)" font-size="8.6" text-anchor="start" font-weight="normal" fill="#1e1e1e" >6</text>
<line x1="381.2" y1="89.9" x2="385.8" y2="89.9" stroke="#2a2a2a" stroke-width="1.2" />
<line x1="383.4" y1="76.97" x2="385.8" y2="76.97" stroke="#2a2a2a" stroke-width="1.2" />
<line x1="383.4" y1="69.41" x2="385.8" y2="69.41" stroke="#2a2a2a" stroke-width="1.2" />
<line x1="383.4" y1="64.04" x2="385.8" y2="64.04" stroke="#2a2a2a" stroke-width="1.2" />
<line x1="383.4" y1="59.88" x2="385.8" y2="59.88" stroke="#2a2a2a" stroke-width="1.2" />
<line x1="383.4" y1="56.48" x2="385.8" y2="56.48" stroke="#2a2a2a" stroke-width="1.2" />
<line x1="383.4" y1="53.6" x2="385.8" y2="53.6" stroke="#2a2a2a" stroke-width="1.2" />
<line x1="383.4" y1="51.11" x2="385.8" y2="51.11" stroke="#2a2a2a" stroke-width="1.2" />
<line x1="383.4" y1="48.92" x2="385.8" y2="48.92" stroke="#2a2a2a" stroke-width="1.2" />
<text transform="translate(373,94.7) scale(1.055,1)" font-size="13" text-anchor="end" font-weight="normal" fill="#1e1e1e" >10</text>
<text transform="translate(373.1,89.7) scale(1.055,1)" font-size="8.6" text-anchor="start" font-weight="normal" fill="#1e1e1e" >7</text>
<line x1="381.2" y1="46.95" x2="385.8" y2="46.95" stroke="#2a2a2a" stroke-width="1.2" />
<line x1="383.4" y1="34.02" x2="385.8" y2="34.02" stroke="#2a2a2a" stroke-width="1.2" />
<line x1="383.4" y1="26.46" x2="385.8" y2="26.46" stroke="#2a2a2a" stroke-width="1.2" />
<line x1="383.4" y1="21.09" x2="385.8" y2="21.09" stroke="#2a2a2a" stroke-width="1.2" />
<line x1="383.4" y1="16.93" x2="385.8" y2="16.93" stroke="#2a2a2a" stroke-width="1.2" />
<line x1="383.4" y1="13.53" x2="385.8" y2="13.53" stroke="#2a2a2a" stroke-width="1.2" />
<line x1="383.4" y1="10.65" x2="385.8" y2="10.65" stroke="#2a2a2a" stroke-width="1.2" />
<line x1="383.4" y1="8.16" x2="385.8" y2="8.16" stroke="#2a2a2a" stroke-width="1.2" />
<text transform="translate(373,51.75) scale(1.055,1)" font-size="13" text-anchor="end" font-weight="normal" fill="#1e1e1e" >10</text>
<text transform="translate(373.1,46.75) scale(1.055,1)" font-size="8.6" text-anchor="start" font-weight="normal" fill="#1e1e1e" >8</text>
<line x1="385.8" y1="261.6" x2="385.8" y2="266.1" stroke="#2a2a2a" stroke-width="1.2" />
<line x1="411.37" y1="261.6" x2="411.37" y2="263.9" stroke="#2a2a2a" stroke-width="1.2" />
<line x1="426.33" y1="261.6" x2="426.33" y2="263.9" stroke="#2a2a2a" stroke-width="1.2" />
<line x1="436.94" y1="261.6" x2="436.94" y2="263.9" stroke="#2a2a2a" stroke-width="1.2" />
<line x1="445.18" y1="261.6" x2="445.18" y2="263.9" stroke="#2a2a2a" stroke-width="1.2" />
<line x1="451.9" y1="261.6" x2="451.9" y2="263.9" stroke="#2a2a2a" stroke-width="1.2" />
<line x1="457.59" y1="261.6" x2="457.59" y2="263.9" stroke="#2a2a2a" stroke-width="1.2" />
<line x1="462.52" y1="261.6" x2="462.52" y2="263.9" stroke="#2a2a2a" stroke-width="1.2" />
<line x1="466.86" y1="261.6" x2="466.86" y2="263.9" stroke="#2a2a2a" stroke-width="1.2" />
<line x1="470.75" y1="261.6" x2="470.75" y2="266.1" stroke="#2a2a2a" stroke-width="1.2" />
<line x1="496.32" y1="261.6" x2="496.32" y2="263.9" stroke="#2a2a2a" stroke-width="1.2" />
<line x1="511.28" y1="261.6" x2="511.28" y2="263.9" stroke="#2a2a2a" stroke-width="1.2" />
<line x1="521.89" y1="261.6" x2="521.89" y2="263.9" stroke="#2a2a2a" stroke-width="1.2" />
<line x1="530.13" y1="261.6" x2="530.13" y2="263.9" stroke="#2a2a2a" stroke-width="1.2" />
<line x1="536.85" y1="261.6" x2="536.85" y2="263.9" stroke="#2a2a2a" stroke-width="1.2" />
<line x1="542.54" y1="261.6" x2="542.54" y2="263.9" stroke="#2a2a2a" stroke-width="1.2" />
<line x1="547.47" y1="261.6" x2="547.47" y2="263.9" stroke="#2a2a2a" stroke-width="1.2" />
<line x1="551.81" y1="261.6" x2="551.81" y2="263.9" stroke="#2a2a2a" stroke-width="1.2" />
<line x1="555.7" y1="261.6" x2="555.7" y2="266.1" stroke="#2a2a2a" stroke-width="1.2" />
<line x1="581.27" y1="261.6" x2="581.27" y2="263.9" stroke="#2a2a2a" stroke-width="1.2" />
<line x1="596.23" y1="261.6" x2="596.23" y2="263.9" stroke="#2a2a2a" stroke-width="1.2" />
<line x1="606.84" y1="261.6" x2="606.84" y2="263.9" stroke="#2a2a2a" stroke-width="1.2" />
<line x1="615.08" y1="261.6" x2="615.08" y2="263.9" stroke="#2a2a2a" stroke-width="1.2" />
<line x1="621.8" y1="261.6" x2="621.8" y2="263.9" stroke="#2a2a2a" stroke-width="1.2" />
<line x1="627.49" y1="261.6" x2="627.49" y2="263.9" stroke="#2a2a2a" stroke-width="1.2" />
<line x1="632.42" y1="261.6" x2="632.42" y2="263.9" stroke="#2a2a2a" stroke-width="1.2" />
<line x1="636.76" y1="261.6" x2="636.76" y2="263.9" stroke="#2a2a2a" stroke-width="1.2" />
<line x1="640.65" y1="261.6" x2="640.65" y2="266.1" stroke="#2a2a2a" stroke-width="1.2" />
<line x1="666.22" y1="261.6" x2="666.22" y2="263.9" stroke="#2a2a2a" stroke-width="1.2" />
<text transform="translate(385.5,280) scale(0.99,1)" font-size="13" text-anchor="middle" font-weight="normal" fill="#1e1e1e" >0.01</text>
<text transform="translate(470.75,280) scale(0.99,1)" font-size="13" text-anchor="middle" font-weight="normal" fill="#1e1e1e" >0.1</text>
<text transform="translate(555.7,280) scale(1.055,1)" font-size="13" text-anchor="middle" font-weight="normal" fill="#1e1e1e" >1</text>
<text transform="translate(640.65,280) scale(1.055,1)" font-size="13" text-anchor="middle" font-weight="normal" fill="#1e1e1e" >10</text>
<rect x="385.8" y="8.3" width="281" height="253.3" fill="none" stroke="#2a2a2a" stroke-width="1.3"/>
<line x1="171.1" y1="181.5" x2="201.8" y2="181.5" stroke="#EF8A92" stroke-width="1.3" />
<polygon points="186.6,178.37 189.8,183.77 183.4,183.77" fill="#EF8A92"/>
<text transform="translate(203,186.7) scale(1.04,1)" font-size="13" text-anchor="start" font-weight="normal" fill="#1e1e1e" >P<tspan font-size="8.8" dy="3.3">1</tspan><tspan dy="-3.3">(G′)</tspan></text>
<line x1="241.9" y1="181.5" x2="271.7" y2="181.5" stroke="#EF8A92" stroke-width="1.3" />
<circle cx="256.8" cy="181.5" r="2.8" fill="#EF8A92"/>
<text transform="translate(272.6,186.7) scale(1.04,1)" font-size="13" text-anchor="start" font-weight="normal" fill="#1e1e1e" >P<tspan font-size="8.8" dy="3.3">1</tspan><tspan dy="-3.3">(G″)</tspan></text>
<line x1="171.1" y1="198" x2="201.8" y2="198" stroke="#89DAF7" stroke-width="1.3" />
<polygon points="186.6,194.87 189.8,200.27 183.4,200.27" fill="#89DAF7"/>
<text transform="translate(203,203.2) scale(1.04,1)" font-size="13" text-anchor="start" font-weight="normal" fill="#1e1e1e" >P<tspan font-size="8.8" dy="3.3">2</tspan><tspan dy="-3.3">(G′)</tspan></text>
<line x1="241.9" y1="198" x2="271.7" y2="198" stroke="#89DAF7" stroke-width="1.3" />
<circle cx="256.8" cy="198" r="2.8" fill="#89DAF7"/>
<text transform="translate(272.6,204.4) scale(1.04,1)" font-size="13" text-anchor="start" font-weight="normal" fill="#1e1e1e" >P<tspan font-size="8.8" dy="3.3">2</tspan><tspan dy="-3.3">(G″)</tspan></text>
<line x1="171.1" y1="214.6" x2="201.8" y2="214.6" stroke="#F26ED5" stroke-width="1.3" />
<polygon points="186.6,211.47 189.8,216.87 183.4,216.87" fill="#F26ED5"/>
<text transform="translate(203,219.8) scale(1.04,1)" font-size="13" text-anchor="start" font-weight="normal" fill="#1e1e1e" >P<tspan font-size="8.8" dy="3.3">3</tspan><tspan dy="-3.3">(G′)</tspan></text>
<line x1="241.9" y1="214.6" x2="271.7" y2="214.6" stroke="#F26ED5" stroke-width="1.3" />
<circle cx="256.8" cy="214.6" r="2.8" fill="#F26ED5"/>
<text transform="translate(272.6,219.8) scale(1.04,1)" font-size="13" text-anchor="start" font-weight="normal" fill="#1e1e1e" >P<tspan font-size="8.8" dy="3.3">3</tspan><tspan dy="-3.3">(G″)</tspan></text>
<line x1="513.9" y1="180.5" x2="543.5" y2="180.5" stroke="#EF8A92" stroke-width="1.3" />
<polygon points="528.4,177.37 531.6,182.77 525.2,182.77" fill="#EF8A92"/>
<text transform="translate(543.8,185.7) scale(1.04,1)" font-size="13" text-anchor="start" font-weight="normal" fill="#1e1e1e" >P<tspan font-size="8.8" dy="3.3">1</tspan><tspan dy="-3.3">(G′)</tspan></text>
<line x1="582.8" y1="180.5" x2="612.5" y2="180.5" stroke="#EF8A92" stroke-width="1.3" />
<circle cx="597.7" cy="180.5" r="2.8" fill="#EF8A92"/>
<text transform="translate(612.4,185.7) scale(1.04,1)" font-size="13" text-anchor="start" font-weight="normal" fill="#1e1e1e" >P<tspan font-size="8.8" dy="3.3">1</tspan><tspan dy="-3.3">(G″)</tspan></text>
<line x1="513.9" y1="197.3" x2="543.5" y2="197.3" stroke="#89DAF7" stroke-width="1.3" />
<polygon points="528.4,194.17 531.6,199.57 525.2,199.57" fill="#89DAF7"/>
<text transform="translate(543.8,202.5) scale(1.04,1)" font-size="13" text-anchor="start" font-weight="normal" fill="#1e1e1e" >P<tspan font-size="8.8" dy="3.3">2</tspan><tspan dy="-3.3">(G′)</tspan></text>
<line x1="582.8" y1="197.3" x2="612.5" y2="197.3" stroke="#89DAF7" stroke-width="1.3" />
<circle cx="597.7" cy="197.3" r="2.8" fill="#89DAF7"/>
<text transform="translate(612.4,203.7) scale(1.04,1)" font-size="13" text-anchor="start" font-weight="normal" fill="#1e1e1e" >P<tspan font-size="8.8" dy="3.3">2</tspan><tspan dy="-3.3">(G″)</tspan></text>
<line x1="513.9" y1="213.7" x2="543.5" y2="213.7" stroke="#F26ED5" stroke-width="1.3" />
<polygon points="528.4,210.57 531.6,215.97 525.2,215.97" fill="#F26ED5"/>
<text transform="translate(543.8,218.9) scale(1.04,1)" font-size="13" text-anchor="start" font-weight="normal" fill="#1e1e1e" >P<tspan font-size="8.8" dy="3.3">3</tspan><tspan dy="-3.3">(G′)</tspan></text>
<line x1="582.8" y1="213.7" x2="612.5" y2="213.7" stroke="#F26ED5" stroke-width="1.3" />
<circle cx="597.7" cy="213.7" r="2.8" fill="#F26ED5"/>
<text transform="translate(612.4,218.9) scale(1.04,1)" font-size="13" text-anchor="start" font-weight="normal" fill="#1e1e1e" >P<tspan font-size="8.8" dy="3.3">3</tspan><tspan dy="-3.3">(G″)</tspan></text>
<text transform="translate(317.2,24.3) scale(1.03,1)" font-size="13" text-anchor="end" font-weight="normal" fill="#1e1e1e" >trans-rich</text>
<text transform="translate(659,23.6) scale(1.055,1)" font-size="13" text-anchor="end" font-weight="normal" fill="#1e1e1e" >cis-rich</text>
<text transform="translate(148,289.1) scale(1.045,1)" font-size="13" text-anchor="start" font-weight="normal" fill="#1e1e1e" >Frequency (Hz)</text>
<text transform="translate(490.6,290.4) scale(1.03,1)" font-size="13" text-anchor="start" font-weight="normal" fill="#1e1e1e" >Frequency (Hz)</text>
<text transform="translate(12.4,138.1) rotate(-90) scale(1.025,1)" font-size="13" text-anchor="middle" fill="#1e1e1e">Modulus (Pa)</text>
<text transform="translate(355.4,131.9) rotate(-90) scale(1.025,1)" font-size="13" text-anchor="middle" fill="#1e1e1e">Modulus (Pa)</text>
<text transform="translate(4.2,17) scale(1.0,1)" font-size="18" text-anchor="start" font-weight="bold" fill="#000" >a</text>
<text transform="translate(343.6,16.8) scale(1.0,1)" font-size="18" text-anchor="start" font-weight="bold" fill="#000" >b</text>
<text transform="translate(4.4,302.2) scale(1.0,1)" font-size="18" text-anchor="start" font-weight="bold" fill="#000" >c</text>
<text transform="translate(343.6,306.1) scale(1.0,1)" font-size="18" text-anchor="start" font-weight="bold" fill="#000" >d</text>
<line x1="46.4" y1="555.9" x2="46.4" y2="560.4" stroke="#2a2a2a" stroke-width="1.2" />
<text transform="translate(46.4,574.6) scale(1.055,1)" font-size="13" text-anchor="middle" font-weight="normal" fill="#1e1e1e" >0</text>
<line x1="74.37" y1="555.9" x2="74.37" y2="558.3" stroke="#2a2a2a" stroke-width="1.2" />
<line x1="102.34" y1="555.9" x2="102.34" y2="560.4" stroke="#2a2a2a" stroke-width="1.2" />
<text transform="translate(102.34,574.6) scale(1.055,1)" font-size="13" text-anchor="middle" font-weight="normal" fill="#1e1e1e" >200</text>
<line x1="130.31" y1="555.9" x2="130.31" y2="558.3" stroke="#2a2a2a" stroke-width="1.2" />
<line x1="158.28" y1="555.9" x2="158.28" y2="560.4" stroke="#2a2a2a" stroke-width="1.2" />
<text transform="translate(158.28,574.6) scale(1.055,1)" font-size="13" text-anchor="middle" font-weight="normal" fill="#1e1e1e" >400</text>
<line x1="186.25" y1="555.9" x2="186.25" y2="558.3" stroke="#2a2a2a" stroke-width="1.2" />
<line x1="214.22" y1="555.9" x2="214.22" y2="560.4" stroke="#2a2a2a" stroke-width="1.2" />
<text transform="translate(214.22,574.6) scale(1.055,1)" font-size="13" text-anchor="middle" font-weight="normal" fill="#1e1e1e" >600</text>
<line x1="242.19" y1="555.9" x2="242.19" y2="558.3" stroke="#2a2a2a" stroke-width="1.2" />
<line x1="270.16" y1="555.9" x2="270.16" y2="560.4" stroke="#2a2a2a" stroke-width="1.2" />
<text transform="translate(270.16,574.6) scale(1.055,1)" font-size="13" text-anchor="middle" font-weight="normal" fill="#1e1e1e" >800</text>
<line x1="298.13" y1="555.9" x2="298.13" y2="558.3" stroke="#2a2a2a" stroke-width="1.2" />
<line x1="326.1" y1="555.9" x2="326.1" y2="560.4" stroke="#2a2a2a" stroke-width="1.2" />
<text transform="translate(326.1,574.6) scale(1.055,1)" font-size="13" text-anchor="middle" font-weight="normal" fill="#1e1e1e" >1000</text>
<line x1="41.8" y1="555.9" x2="46.4" y2="555.9" stroke="#2a2a2a" stroke-width="1.2" />
<text transform="translate(37.6,559.8) scale(1.055,1)" font-size="13" text-anchor="end" font-weight="normal" fill="#1e1e1e" >0.0</text>
<line x1="44" y1="530.45" x2="46.4" y2="530.45" stroke="#2a2a2a" stroke-width="1.2" />
<line x1="41.8" y1="505" x2="46.4" y2="505" stroke="#2a2a2a" stroke-width="1.2" />
<text transform="translate(37.6,508.9) scale(1.055,1)" font-size="13" text-anchor="end" font-weight="normal" fill="#1e1e1e" >0.8</text>
<line x1="44" y1="479.55" x2="46.4" y2="479.55" stroke="#2a2a2a" stroke-width="1.2" />
<line x1="41.8" y1="454.1" x2="46.4" y2="454.1" stroke="#2a2a2a" stroke-width="1.2" />
<text transform="translate(37.6,458) scale(1.055,1)" font-size="13" text-anchor="end" font-weight="normal" fill="#1e1e1e" >1.6</text>
<line x1="44" y1="428.65" x2="46.4" y2="428.65" stroke="#2a2a2a" stroke-width="1.2" />
<line x1="41.8" y1="403.2" x2="46.4" y2="403.2" stroke="#2a2a2a" stroke-width="1.2" />
<text transform="translate(37.6,407.1) scale(1.055,1)" font-size="13" text-anchor="end" font-weight="normal" fill="#1e1e1e" >2.4</text>
<line x1="44" y1="377.75" x2="46.4" y2="377.75" stroke="#2a2a2a" stroke-width="1.2" />
<line x1="41.8" y1="352.3" x2="46.4" y2="352.3" stroke="#2a2a2a" stroke-width="1.2" />
<text transform="translate(37.6,356.2) scale(1.055,1)" font-size="13" text-anchor="end" font-weight="normal" fill="#1e1e1e" >3.2</text>
<line x1="44" y1="326.85" x2="46.4" y2="326.85" stroke="#2a2a2a" stroke-width="1.2" />
<line x1="41.8" y1="301.4" x2="46.4" y2="301.4" stroke="#2a2a2a" stroke-width="1.2" />
<text transform="translate(37.6,305.3) scale(1.055,1)" font-size="13" text-anchor="end" font-weight="normal" fill="#1e1e1e" >4.0</text>
<rect x="46.4" y="301.4" width="279.7" height="254.5" fill="none" stroke="#2a2a2a" stroke-width="1.3"/>
<line x1="387.6" y1="555" x2="387.6" y2="559.5" stroke="#2a2a2a" stroke-width="1.2" />
<text transform="translate(387.6,574) scale(1.055,1)" font-size="13" text-anchor="middle" font-weight="normal" fill="#1e1e1e" >0</text>
<line x1="415.68" y1="555" x2="415.68" y2="557.4" stroke="#2a2a2a" stroke-width="1.2" />
<line x1="443.76" y1="555" x2="443.76" y2="559.5" stroke="#2a2a2a" stroke-width="1.2" />
<text transform="translate(443.76,574) scale(1.055,1)" font-size="13" text-anchor="middle" font-weight="normal" fill="#1e1e1e" >200</text>
<line x1="471.84" y1="555" x2="471.84" y2="557.4" stroke="#2a2a2a" stroke-width="1.2" />
<line x1="499.92" y1="555" x2="499.92" y2="559.5" stroke="#2a2a2a" stroke-width="1.2" />
<text transform="translate(499.92,574) scale(1.055,1)" font-size="13" text-anchor="middle" font-weight="normal" fill="#1e1e1e" >400</text>
<line x1="528" y1="555" x2="528" y2="557.4" stroke="#2a2a2a" stroke-width="1.2" />
<line x1="556.08" y1="555" x2="556.08" y2="559.5" stroke="#2a2a2a" stroke-width="1.2" />
<text transform="translate(556.08,574) scale(1.055,1)" font-size="13" text-anchor="middle" font-weight="normal" fill="#1e1e1e" >600</text>
<line x1="584.16" y1="555" x2="584.16" y2="557.4" stroke="#2a2a2a" stroke-width="1.2" />
<line x1="612.24" y1="555" x2="612.24" y2="559.5" stroke="#2a2a2a" stroke-width="1.2" />
<text transform="translate(612.24,574) scale(1.055,1)" font-size="13" text-anchor="middle" font-weight="normal" fill="#1e1e1e" >800</text>
<line x1="640.32" y1="555" x2="640.32" y2="557.4" stroke="#2a2a2a" stroke-width="1.2" />
<line x1="668.4" y1="555" x2="668.4" y2="559.5" stroke="#2a2a2a" stroke-width="1.2" />
<text transform="translate(668.4,574) scale(1.055,1)" font-size="13" text-anchor="middle" font-weight="normal" fill="#1e1e1e" >1000</text>
<line x1="383" y1="555" x2="387.6" y2="555" stroke="#2a2a2a" stroke-width="1.2" />
<text transform="translate(378.6,558.9) scale(1.055,1)" font-size="13" text-anchor="end" font-weight="normal" fill="#1e1e1e" >0.0</text>
<line x1="385.2" y1="529.64" x2="387.6" y2="529.64" stroke="#2a2a2a" stroke-width="1.2" />
<line x1="383" y1="504.28" x2="387.6" y2="504.28" stroke="#2a2a2a" stroke-width="1.2" />
<text transform="translate(378.6,508.18) scale(1.055,1)" font-size="13" text-anchor="end" font-weight="normal" fill="#1e1e1e" >0.8</text>
<line x1="385.2" y1="478.92" x2="387.6" y2="478.92" stroke="#2a2a2a" stroke-width="1.2" />
<line x1="383" y1="453.56" x2="387.6" y2="453.56" stroke="#2a2a2a" stroke-width="1.2" />
<text transform="translate(378.6,457.46) scale(1.055,1)" font-size="13" text-anchor="end" font-weight="normal" fill="#1e1e1e" >1.6</text>
<line x1="385.2" y1="428.2" x2="387.6" y2="428.2" stroke="#2a2a2a" stroke-width="1.2" />
<line x1="383" y1="402.84" x2="387.6" y2="402.84" stroke="#2a2a2a" stroke-width="1.2" />
<text transform="translate(378.6,406.74) scale(1.055,1)" font-size="13" text-anchor="end" font-weight="normal" fill="#1e1e1e" >2.4</text>
<line x1="385.2" y1="377.48" x2="387.6" y2="377.48" stroke="#2a2a2a" stroke-width="1.2" />
<line x1="383" y1="352.12" x2="387.6" y2="352.12" stroke="#2a2a2a" stroke-width="1.2" />
<text transform="translate(378.6,356.02) scale(1.055,1)" font-size="13" text-anchor="end" font-weight="normal" fill="#1e1e1e" >3.2</text>
<line x1="385.2" y1="326.76" x2="387.6" y2="326.76" stroke="#2a2a2a" stroke-width="1.2" />
<line x1="383" y1="301.4" x2="387.6" y2="301.4" stroke="#2a2a2a" stroke-width="1.2" />
<text transform="translate(378.6,305.3) scale(1.055,1)" font-size="13" text-anchor="end" font-weight="normal" fill="#1e1e1e" >4.0</text>
<rect x="387.6" y="301.4" width="280.8" height="253.6" fill="none" stroke="#2a2a2a" stroke-width="1.3"/>
<path d="M46.4,536 C46.5,533.08 46.77,522.65 47,518.5 C47.23,514.35 47.42,513.87 47.8,511.1 C48.18,508.33 48.75,504.22 49.3,501.9 C49.85,499.58 50.33,498.9 51.1,497.2 C51.87,495.5 52.97,493.55 53.9,491.7 C54.83,489.85 55.93,487.43 56.7,486.1 C57.47,484.77 57.88,484.07 58.5,483.7 C59.12,483.33 59.78,483.78 60.4,483.9 C61.02,484.02 61.43,484.55 62.2,484.4 C62.97,484.25 63.77,483.58 65,483 C66.23,482.42 68.37,481.3 69.6,480.9 C70.83,480.5 71.62,480.65 72.4,480.6 C73.18,480.55 73.22,480.77 74.3,480.6 C75.38,480.43 76.28,479.92 78.9,479.6 C81.52,479.28 87.82,478.84 90,478.7 C92.18,478.55 91.33,478.72 92,478.74 C92.67,478.75 93.33,478.76 94,478.77 C94.67,478.79 95.33,478.8 96,478.81 C96.67,478.82 97.33,478.83 98,478.84 C98.67,478.85 99.33,478.85 100,478.86 C100.67,478.87 101.33,478.88 102,478.88 C102.67,478.89 103.33,478.9 104,478.9 C104.67,478.91 105.33,478.91 106,478.92 C106.67,478.92 107.33,478.93 108,478.93 C108.67,478.93 109.33,478.94 110,478.94 C110.67,478.94 111.33,478.94 112,478.94 C112.67,478.94 113.33,478.94 114,478.94 C114.67,478.94 115.33,478.94 116,478.94 C116.67,478.94 117.33,478.93 118,478.93 C118.67,478.93 119.33,478.93 120,478.92 C120.67,478.92 121.33,478.91 122,478.91 C122.67,478.9 123.33,478.9 124,478.89 C124.67,478.88 125.33,478.88 126,478.87 C126.67,478.86 127.33,478.85 128,478.84 C128.67,478.83 129.33,478.83 130,478.82 C130.67,478.81 131.33,478.79 132,478.78 C132.67,478.77 133.33,478.76 134,478.75 C134.67,478.74 135.33,478.72 136,478.71 C136.67,478.7 137.33,478.68 138,478.67 C138.67,478.65 139.33,478.64 140,478.62 C140.67,478.6 141.33,478.59 142,478.57 C142.67,478.55 143.33,478.54 144,478.52 C144.67,478.5 145.33,478.48 146,478.46 C146.67,478.44 147.33,478.42 148,478.4 C148.67,478.38 149.33,478.36 150,478.34 C150.67,478.32 151.33,478.29 152,478.27 C152.67,478.25 153.33,478.23 154,478.2 C154.67,478.18 155.33,478.15 156,478.13 C156.67,478.1 157.33,478.08 158,478.05 C158.67,478.02 159.33,478 160,477.97 C160.67,477.94 161.33,477.91 162,477.89 C162.67,477.86 163.33,477.83 164,477.8 C164.67,477.77 165.33,477.74 166,477.71 C166.67,477.68 167.33,477.65 168,477.61 C168.67,477.58 169.33,477.55 170,477.52 C170.67,477.48 171.33,477.45 172,477.41 C172.67,477.38 173.33,477.35 174,477.31 C174.67,477.28 175.33,477.24 176,477.2 C176.67,477.17 177.33,477.13 178,477.09 C178.67,477.05 179.33,477.02 180,476.98 C180.67,476.94 181.33,476.9 182,476.86 C182.67,476.82 183.33,476.78 184,476.74 C184.67,476.7 185.33,476.66 186,476.61 C186.67,476.57 187.33,476.53 188,476.49 C188.67,476.44 189.33,476.4 190,476.36 C190.67,476.31 191.33,476.27 192,476.22 C192.67,476.18 193.33,476.13 194,476.08 C194.67,476.04 195.33,475.99 196,475.94 C196.67,475.9 197.33,475.85 198,475.8 C198.67,475.75 199.33,475.7 200,475.65 C200.67,475.6 201.33,475.55 202,475.5 C202.67,475.45 203.33,475.4 204,475.35 C204.67,475.3 205.33,475.25 206,475.19 C206.67,475.14 207.33,475.09 208,475.04 C208.67,474.98 209.33,474.93 210,474.88 C210.67,474.82 211.33,474.77 212,474.71 C212.67,474.66 213.33,474.6 214,474.55 C214.67,474.49 215.33,474.44 216,474.38 C216.67,474.32 217.33,474.27 218,474.21 C218.67,474.16 219.33,474.1 220,474.04 C220.67,473.98 221.33,473.93 222,473.87 C222.67,473.81 223.33,473.75 224,473.7 C224.67,473.64 225.33,473.58 226,473.52 C226.67,473.46 227.33,473.4 228,473.34 C228.67,473.29 229.33,473.23 230,473.17 C230.67,473.11 231.33,473.05 232,472.99 C232.67,472.93 233.33,472.87 234,472.81 C234.67,472.75 235.33,472.69 236,472.63 C236.67,472.57 237.33,472.51 238,472.45 C238.67,472.39 239.33,472.33 240,472.27 C240.67,472.21 241.33,472.15 242,472.09 C242.67,472.03 243.33,471.97 244,471.91 C244.67,471.85 245.33,471.79 246,471.73 C246.67,471.67 247.33,471.61 248,471.55 C248.67,471.49 249.33,471.43 250,471.37 C250.67,471.31 251.33,471.25 252,471.2 C252.67,471.14 253.33,471.08 254,471.02 C254.67,470.96 255.33,470.9 256,470.84 C256.67,470.78 257.33,470.72 258,470.66 C258.67,470.61 259.33,470.55 260,470.49 C260.67,470.43 261.33,470.37 262,470.32 C262.67,470.26 263.33,470.2 264,470.14 C264.67,470.09 265.33,470.03 266,469.97 C266.67,469.92 267.33,469.86 268,469.8 C268.67,469.75 269.33,469.69 270,469.64 C270.67,469.58 271.33,469.53 272,469.47 C272.67,469.42 273.33,469.36 274,469.31 C274.67,469.26 275.33,469.2 276,469.15 C276.67,469.1 277.33,469.04 278,468.99 C278.67,468.94 279.33,468.89 280,468.83 C280.67,468.78 281.33,468.73 282,468.68 C282.67,468.63 283.33,468.58 284,468.53 C284.67,468.48 285.33,468.43 286,468.38 C286.67,468.34 287.33,468.29 288,468.24 C288.67,468.19 289.33,468.15 290,468.1 C290.67,468.05 291.33,468.01 292,467.96 C292.67,467.92 293.33,467.87 294,467.83 C294.67,467.78 295.33,467.74 296,467.7 C296.67,467.66 297.33,467.61 298,467.57 C298.67,467.53 299.33,467.49 300,467.45 C300.67,467.41 301.33,467.37 302,467.33 C302.67,467.29 303.33,467.26 304,467.22 C304.67,467.18 305.33,467.14 306,467.11 C306.67,467.07 307.65,467.02 308,467 C308.35,466.99 307.62,466.9 308.1,467 C308.58,467.1 310.18,467.2 310.9,467.6 C311.62,468 312.08,468.02 312.4,469.4 C312.72,470.78 312.73,465.8 312.8,475.9 C312.87,486 312.8,516.88 312.8,530 C312.8,543.12 312.8,550.5 312.8,554.6 C312.8,558.7 312.75,554.98 312.8,554.6 C312.85,554.22 313.05,552.68 313.1,552.3 C313.15,551.92 312.72,552.38 313.1,552.3 C313.48,552.22 315.02,551.88 315.4,551.8" fill="none" stroke="#EF8A92" stroke-width="1.6" stroke-linejoin="round" stroke-linecap="round" />
<path d="M46.4,555.6 C46.42,551.58 46.33,536.45 46.5,531.5 C46.67,526.55 46.93,527.6 47.4,525.9 C47.87,524.2 48.53,522.68 49.3,521.3 C50.07,519.92 51.08,518.98 52,517.6 C52.92,516.22 53.87,514.45 54.8,513 C55.73,511.55 56.52,509.77 57.6,508.9 C58.68,508.03 60.22,508.2 61.3,507.8 C62.38,507.4 62.72,507.18 64.1,506.5 C65.48,505.82 67.45,504.72 69.6,503.7 C71.75,502.68 74.22,501.63 77,500.4 C79.78,499.17 83.2,497.53 86.3,496.3 C89.4,495.07 93.55,493.71 95.6,492.99 C97.65,492.28 97.6,492.35 98.6,492.03 C99.6,491.71 100.6,491.39 101.6,491.06 C102.6,490.74 103.6,490.42 104.6,490.09 C105.6,489.77 106.6,489.44 107.6,489.12 C108.6,488.79 109.6,488.46 110.6,488.13 C111.6,487.8 112.6,487.47 113.6,487.14 C114.6,486.8 115.6,486.47 116.6,486.13 C117.6,485.79 118.6,485.45 119.6,485.11 C120.6,484.76 121.6,484.42 122.6,484.07 C123.6,483.72 124.6,483.36 125.6,483.01 C126.6,482.65 127.6,482.29 128.6,481.93 C129.6,481.56 130.6,481.19 131.6,480.82 C132.6,480.45 133.6,480.07 134.6,479.69 C135.6,479.31 136.6,478.92 137.6,478.53 C138.6,478.14 139.6,477.75 140.6,477.34 C141.6,476.94 142.6,476.54 143.6,476.12 C144.6,475.71 145.6,475.29 146.6,474.87 C147.6,474.44 148.6,474.01 149.6,473.57 C150.6,473.14 151.6,472.69 152.6,472.24 C153.6,471.79 154.6,471.33 155.6,470.87 C156.6,470.41 157.6,469.93 158.6,469.45 C159.6,468.97 160.6,468.49 161.6,467.99 C162.6,467.5 163.6,466.99 164.6,466.48 C165.6,465.97 166.6,465.45 167.6,464.92 C168.6,464.4 169.6,463.86 170.6,463.31 C171.6,462.77 172.6,462.21 173.6,461.65 C174.6,461.08 175.6,460.51 176.6,459.92 C177.6,459.34 178.6,458.75 179.6,458.14 C180.6,457.54 181.6,456.93 182.6,456.3 C183.6,455.68 184.6,455.04 185.6,454.4 C186.6,453.75 187.6,453.1 188.6,452.43 C189.6,451.76 190.6,451.08 191.6,450.39 C192.6,449.7 193.6,449 194.6,448.29 C195.6,447.57 196.6,446.85 197.6,446.11 C198.6,445.38 199.6,444.63 200.6,443.87 C201.6,443.11 202.6,442.35 203.6,441.57 C204.6,440.79 205.6,440 206.6,439.2 C207.6,438.4 208.6,437.59 209.6,436.77 C210.6,435.95 211.6,435.13 212.6,434.29 C213.6,433.45 214.6,432.6 215.6,431.75 C216.6,430.89 217.6,430.02 218.6,429.15 C219.6,428.27 220.6,427.39 221.6,426.5 C222.6,425.61 223.6,424.71 224.6,423.8 C225.6,422.89 226.6,421.97 227.6,421.05 C228.6,420.13 229.6,419.19 230.6,418.25 C231.6,417.31 232.6,416.37 233.6,415.41 C234.6,414.46 235.6,413.49 236.6,412.53 C237.6,411.56 238.6,410.58 239.6,409.6 C240.6,408.62 241.6,407.63 242.6,406.63 C243.6,405.64 244.6,404.64 245.6,403.63 C246.6,402.62 247.4,401.58 248.6,400.59 C249.8,399.6 251.8,398.35 252.8,397.7 C253.8,397.05 254.05,396.93 254.6,396.7 C255.15,396.47 255.65,396.28 256.1,396.3 C256.55,396.32 256.97,396.47 257.3,396.8 C257.63,397.13 257.9,397.57 258.1,398.3 C258.3,399.03 258.4,400 258.5,401.2 C258.6,402.4 258.67,403.7 258.7,405.5 C258.73,407.3 258.7,386.98 258.7,412 C258.7,437.02 258.7,531.67 258.7,555.6" fill="none" stroke="#89DAF7" stroke-width="1.6" stroke-linejoin="round" stroke-linecap="round" />
<path d="M46.4,555.5 C46.4,549.8 46.08,527.77 46.4,521.3 C46.72,514.83 47.52,517.93 48.3,516.7 C49.08,515.47 50.02,514.98 51.1,513.9 C52.18,512.82 53.57,511.28 54.8,510.2 C56.03,509.12 57.27,508.48 58.5,507.4 C59.73,506.32 61.12,504.62 62.2,503.7 C63.28,502.78 64.07,502.37 65,501.9 C65.93,501.43 66.87,501.47 67.8,500.9 C68.73,500.33 69.52,499.42 70.6,498.5 C71.68,497.58 72.62,496.53 74.3,495.4 C75.98,494.27 78.4,492.93 80.7,491.7 C83,490.47 85.62,489.15 88.1,488 C90.58,486.85 93.85,485.59 95.6,484.8 C97.35,484.01 97.6,483.76 98.6,483.26 C99.6,482.77 100.6,482.28 101.6,481.8 C102.6,481.33 103.6,480.86 104.6,480.41 C105.6,479.95 106.6,479.5 107.6,479.07 C108.6,478.63 109.6,478.2 110.6,477.77 C111.6,477.34 112.6,476.93 113.6,476.51 C114.6,476.1 115.6,475.69 116.6,475.29 C117.6,474.88 118.6,474.48 119.6,474.08 C120.6,473.69 121.6,473.29 122.6,472.9 C123.6,472.5 124.6,472.11 125.6,471.71 C126.6,471.32 127.6,470.92 128.6,470.53 C129.6,470.13 130.6,469.73 131.6,469.33 C132.6,468.93 133.6,468.52 134.6,468.11 C135.6,467.7 136.6,467.29 137.6,466.87 C138.6,466.45 139.6,466.03 140.6,465.59 C141.6,465.16 142.6,464.72 143.6,464.27 C144.6,463.82 145.6,463.36 146.6,462.9 C147.6,462.43 148.6,461.95 149.6,461.46 C150.6,460.97 151.6,460.47 152.6,459.96 C153.6,459.45 154.6,458.92 155.6,458.38 C156.6,457.84 157.6,457.29 158.6,456.72 C159.6,456.15 160.6,455.56 161.6,454.96 C162.6,454.36 163.6,453.74 164.6,453.11 C165.6,452.47 166.6,451.81 167.6,451.14 C168.6,450.46 169.6,449.77 170.6,449.05 C171.6,448.34 172.6,447.6 173.6,446.84 C174.6,446.08 175.6,445.3 176.6,444.5 C177.6,443.69 178.6,442.87 179.6,442.01 C180.6,441.16 181.6,440.28 182.6,439.38 C183.6,438.47 184.6,437.54 185.6,436.59 C186.6,435.64 187.6,434.66 188.6,433.66 C189.6,432.66 190.6,431.64 191.6,430.59 C192.6,429.55 193.6,428.48 194.6,427.39 C195.6,426.3 196.6,425.18 197.6,424.05 C198.6,422.91 199.6,421.76 200.6,420.58 C201.6,419.4 202.6,418.2 203.6,416.98 C204.6,415.77 205.6,414.53 206.6,413.27 C207.6,412.01 208.6,410.73 209.6,409.44 C210.6,408.14 211.6,406.82 212.6,405.49 C213.6,404.15 214.6,402.8 215.6,401.43 C216.6,400.06 217.6,398.67 218.6,397.27 C219.6,395.86 220.6,394.44 221.6,393 C222.6,391.56 223.6,390.11 224.6,388.64 C225.6,387.17 226.68,385.55 227.6,384.18 C228.52,382.8 229.2,381.62 230.1,380.39 C231,379.16 232.1,377.73 233,376.8 C233.9,375.87 234.68,375.25 235.5,374.8 C236.32,374.35 237.1,374.08 237.9,374.1 C238.7,374.12 239.57,374.17 240.3,374.9 C241.03,375.63 241.75,376.25 242.3,378.5 C242.85,380.75 243.28,385.35 243.6,388.4 C243.92,391.45 244.03,393.98 244.2,396.8 C244.37,399.62 244.52,399.77 244.6,405.3 C244.68,410.83 244.68,404.97 244.7,430 C244.72,455.03 244.7,534.58 244.7,555.5" fill="none" stroke="#F26ED5" stroke-width="1.6" stroke-linejoin="round" stroke-linecap="round" />
<path d="M387.6,553 C387.62,539.5 387.52,488.13 387.7,472 C387.88,455.87 388.17,459.73 388.7,456.2 C389.23,452.67 390.35,451.75 390.9,450.8 C391.45,449.85 391.63,450.77 392,450.5 C392.37,450.23 392.73,449.32 393.1,449.2 C393.47,449.08 393.83,450.17 394.2,449.8 C394.57,449.43 394.93,447.22 395.3,447 C395.67,446.78 396.03,448.23 396.4,448.5 C396.77,448.77 397.13,448.3 397.5,448.6 C397.87,448.9 398.23,450.05 398.6,450.3 C398.97,450.55 399.15,449.83 399.7,450.1 C400.25,450.37 401.35,451.33 401.9,451.9 C402.45,452.47 402.65,452.97 403,453.5 C403.35,454.03 403.57,454.78 404,455.1 C404.43,455.42 405.05,455.03 405.6,455.4 C406.15,455.77 406.73,457.03 407.3,457.3 C407.87,457.57 408.45,456.88 409,457 C409.55,457.12 410.07,457.75 410.6,458 C411.13,458.25 411.65,458.07 412.2,458.5 C412.75,458.93 413.35,460.1 413.9,460.6 C414.45,461.1 414.95,460.95 415.5,461.5 C416.05,462.05 416.65,463.55 417.2,463.9 C417.75,464.25 418.27,463.35 418.8,463.6 C419.33,463.85 419.58,464.98 420.4,465.4 C421.22,465.82 422.88,465.7 423.7,466.1 C424.52,466.5 424.75,467.43 425.3,467.8 C425.85,468.17 426.38,468.08 427,468.3 C427.62,468.52 428.27,468.75 429,469.1 C429.73,469.45 430.1,470 431.4,470.4 C432.7,470.8 435.57,471.23 436.8,471.5 C438.03,471.76 438.13,471.83 438.8,471.99 C439.47,472.15 440.13,472.31 440.8,472.46 C441.47,472.61 442.13,472.76 442.8,472.91 C443.47,473.06 444.13,473.2 444.8,473.34 C445.47,473.48 446.13,473.61 446.8,473.74 C447.47,473.87 448.13,474 448.8,474.13 C449.47,474.25 450.13,474.37 450.8,474.49 C451.47,474.61 452.13,474.72 452.8,474.84 C453.47,474.95 454.13,475.05 454.8,475.16 C455.47,475.26 456.13,475.37 456.8,475.46 C457.47,475.56 458.13,475.66 458.8,475.75 C459.47,475.84 460.13,475.93 460.8,476.02 C461.47,476.1 462.13,476.18 462.8,476.26 C463.47,476.34 464.13,476.42 464.8,476.49 C465.47,476.57 466.13,476.64 466.8,476.7 C467.47,476.77 468.13,476.84 468.8,476.9 C469.47,476.96 470.13,477.02 470.8,477.08 C471.47,477.13 472.13,477.19 472.8,477.24 C473.47,477.29 474.13,477.34 474.8,477.38 C475.47,477.43 476.13,477.47 476.8,477.51 C477.47,477.55 478.13,477.59 478.8,477.63 C479.47,477.66 480.13,477.69 480.8,477.72 C481.47,477.76 482.13,477.78 482.8,477.81 C483.47,477.83 484.13,477.86 484.8,477.88 C485.47,477.9 486.13,477.92 486.8,477.93 C487.47,477.95 488.13,477.96 488.8,477.98 C489.47,477.99 490.13,478 490.8,478 C491.47,478.01 492.13,478.02 492.8,478.02 C493.47,478.02 494.13,478.02 494.8,478.02 C495.47,478.02 496.13,478.02 496.8,478.01 C497.47,478.01 498.13,478 498.8,477.99 C499.47,477.99 500.13,477.97 500.8,477.96 C501.47,477.95 502.13,477.94 502.8,477.92 C503.47,477.9 504.13,477.89 504.8,477.87 C505.47,477.85 506.13,477.82 506.8,477.8 C507.47,477.78 508.13,477.75 508.8,477.73 C509.47,477.7 510.13,477.67 510.8,477.65 C511.47,477.62 512.13,477.59 512.8,477.55 C513.47,477.52 514.13,477.49 514.8,477.45 C515.47,477.42 516.13,477.38 516.8,477.34 C517.47,477.3 518.13,477.27 518.8,477.22 C519.47,477.18 520.13,477.14 520.8,477.1 C521.47,477.06 522.13,477.01 522.8,476.97 C523.47,476.92 524.13,476.88 524.8,476.83 C525.47,476.78 526.13,476.73 526.8,476.68 C527.47,476.63 528.13,476.58 528.8,476.53 C529.47,476.48 530.13,476.43 530.8,476.37 C531.47,476.32 532.13,476.26 532.8,476.21 C533.47,476.15 534.13,476.1 534.8,476.04 C535.47,475.98 536.13,475.93 536.8,475.87 C537.47,475.81 538.13,475.75 538.8,475.69 C539.47,475.63 540.13,475.57 540.8,475.51 C541.47,475.45 542.13,475.39 542.8,475.33 C543.47,475.26 544.13,475.2 544.8,475.14 C545.47,475.07 546.13,475.01 546.8,474.95 C547.47,474.88 548.13,474.82 548.8,474.75 C549.47,474.69 550.13,474.62 550.8,474.56 C551.47,474.49 552.13,474.43 552.8,474.36 C553.47,474.3 554.13,474.23 554.8,474.16 C555.47,474.1 556.13,474.03 556.8,473.96 C557.47,473.9 558.13,473.83 558.8,473.76 C559.47,473.7 560.13,473.63 560.8,473.56 C561.47,473.5 562.13,473.43 562.8,473.36 C563.47,473.3 564.13,473.23 564.8,473.17 C565.47,473.1 566.13,473.03 566.8,472.97 C567.47,472.9 568.13,472.84 568.8,472.77 C569.47,472.71 570.13,472.64 570.8,472.58 C571.47,472.51 572.13,472.45 572.8,472.38 C573.47,472.32 574.13,472.25 574.8,472.19 C575.47,472.13 576.13,472.07 576.8,472 C577.47,471.94 578.13,471.88 578.8,471.82 C579.47,471.76 580.13,471.7 580.8,471.64 C581.47,471.58 582.13,471.52 582.8,471.46 C583.47,471.4 584.13,471.34 584.8,471.29 C585.47,471.23 586.13,471.17 586.8,471.12 C587.47,471.06 588.13,471.01 588.8,470.95 C589.47,470.9 590.13,470.85 590.8,470.8 C591.47,470.74 592.13,470.69 592.8,470.64 C593.47,470.59 594.13,470.54 594.8,470.5 C595.47,470.45 596.13,470.4 596.8,470.36 C597.47,470.31 598.13,470.27 598.8,470.22 C599.47,470.18 600.13,470.14 600.8,470.1 C601.47,470.06 602.13,470.02 602.8,469.98 C603.47,469.94 604.13,469.91 604.8,469.87 C605.47,469.83 606.13,469.8 606.8,469.77 C607.47,469.74 608.13,469.7 608.8,469.68 C609.47,469.65 610.13,469.62 610.8,469.59 C611.47,469.57 612.13,469.54 612.8,469.52 C613.47,469.49 614.13,469.47 614.8,469.45 C615.47,469.43 616.13,469.41 616.8,469.4 C617.47,469.38 618.13,469.37 618.8,469.35 C619.47,469.34 620.13,469.33 620.8,469.32 C621.47,469.31 622.35,469.3 622.8,469.3 C623.25,469.3 622.62,468.95 623.5,469.3 C624.38,469.65 627.08,470.38 628.1,471.4 C629.12,472.42 629.25,472.2 629.6,475.4 C629.95,478.6 630.05,481.5 630.2,490.6 C630.35,499.7 630.43,519.38 630.5,530 C630.57,540.62 630.58,550.25 630.6,554.3 C630.62,558.35 629.77,554.3 630.6,554.3 C631.43,554.3 634.77,554.3 635.6,554.3" fill="none" stroke="#EF8A92" stroke-width="1.6" stroke-linejoin="round" stroke-linecap="round" />
<path d="M387.7,554.6 C387.7,550.23 387.53,534.6 387.7,528.4 C387.87,522.2 388.23,520.68 388.7,517.4 C389.17,514.12 389.77,511.25 390.5,508.7 C391.23,506.15 392.42,503.63 393.1,502.1 C393.78,500.57 394.22,499.88 394.6,499.5 C394.98,499.12 395.1,500.27 395.4,499.8 C395.7,499.33 396.05,497.3 396.4,496.7 C396.75,496.1 397.17,496.4 397.5,496.2 C397.83,496 398.03,495.97 398.4,495.5 C398.77,495.03 399.12,493.93 399.7,493.4 C400.28,492.87 401.27,492.53 401.9,492.3 C402.53,492.07 403.07,492.35 403.5,492 C403.93,491.65 404.05,490.52 404.5,490.2 C404.95,489.88 405.58,490.2 406.2,490.1 C406.82,490 407.7,490.02 408.2,489.6 C408.7,489.18 408.8,487.88 409.2,487.6 C409.6,487.32 410,488.03 410.6,487.9 C411.2,487.77 411.52,487.27 412.8,486.8 C414.08,486.33 416.48,485.63 418.3,485.1 C420.12,484.57 422.3,484 423.7,483.6 C425.1,483.21 425.7,483.02 426.7,482.73 C427.7,482.44 428.7,482.15 429.7,481.87 C430.7,481.58 431.7,481.3 432.7,481.02 C433.7,480.73 434.7,480.45 435.7,480.17 C436.7,479.89 437.7,479.61 438.7,479.33 C439.7,479.05 440.7,478.77 441.7,478.49 C442.7,478.21 443.7,477.92 444.7,477.64 C445.7,477.36 446.7,477.08 447.7,476.79 C448.7,476.51 449.7,476.22 450.7,475.94 C451.7,475.65 452.7,475.36 453.7,475.07 C454.7,474.78 455.7,474.49 456.7,474.19 C457.7,473.89 458.7,473.6 459.7,473.29 C460.7,472.99 461.7,472.69 462.7,472.38 C463.7,472.07 464.7,471.76 465.7,471.44 C466.7,471.12 467.7,470.8 468.7,470.48 C469.7,470.15 470.7,469.82 471.7,469.49 C472.7,469.16 473.7,468.82 474.7,468.47 C475.7,468.13 476.7,467.78 477.7,467.42 C478.7,467.06 479.7,466.7 480.7,466.33 C481.7,465.96 482.7,465.59 483.7,465.2 C484.7,464.82 485.7,464.43 486.7,464.04 C487.7,463.64 488.7,463.24 489.7,462.83 C490.7,462.41 491.7,462 492.7,461.57 C493.7,461.14 494.7,460.7 495.7,460.26 C496.7,459.81 497.7,459.36 498.7,458.9 C499.7,458.44 500.7,457.96 501.7,457.48 C502.7,457 503.7,456.51 504.7,456.01 C505.7,455.51 506.7,455 507.7,454.47 C508.7,453.95 509.7,453.42 510.7,452.87 C511.7,452.33 512.7,451.78 513.7,451.21 C514.7,450.64 515.7,450.07 516.7,449.48 C517.7,448.89 518.7,448.28 519.7,447.67 C520.7,447.05 521.7,446.43 522.7,445.79 C523.7,445.15 524.7,444.49 525.7,443.83 C526.7,443.16 527.7,442.48 528.7,441.79 C529.7,441.1 530.7,440.39 531.7,439.67 C532.7,438.95 533.7,438.22 534.7,437.47 C535.7,436.72 536.7,435.96 537.7,435.19 C538.7,434.41 539.7,433.62 540.7,432.81 C541.7,432.01 542.7,431.19 543.7,430.35 C544.7,429.52 545.7,428.67 546.7,427.8 C547.7,426.94 548.7,426.06 549.7,425.16 C550.7,424.26 551.7,423.35 552.7,422.42 C553.7,421.49 554.7,420.55 555.7,419.59 C556.7,418.63 557.7,417.65 558.7,416.66 C559.7,415.67 560.7,414.65 561.7,413.63 C562.7,412.61 563.7,411.56 564.7,410.51 C565.7,409.46 566.7,408.39 567.7,407.31 C568.7,406.23 569.7,405.14 570.7,404.04 C571.7,402.94 572.7,401.82 573.7,400.7 C574.7,399.58 575.73,398.41 576.7,397.31 C577.67,396.21 578.45,394.96 579.5,394.1 C580.55,393.23 581.82,392.53 583,392.1 C584.18,391.67 585.52,391.5 586.6,391.5 C587.68,391.5 588.82,391.67 589.5,392.1 C590.18,392.53 590.4,392.97 590.7,394.1 C591,395.23 591.1,397.13 591.3,398.9 C591.5,400.67 591.77,401.95 591.9,404.7 C592.03,407.45 592,407.85 592.1,415.4 C592.2,422.95 592.43,428.53 592.5,450 C592.57,471.47 592.5,528.5 592.5,544.2" fill="none" stroke="#89DAF7" stroke-width="1.6" stroke-linejoin="round" stroke-linecap="round" />
<path d="M387.7,555 C387.7,540.72 387.53,485.03 387.7,469.3 C387.87,453.57 388.35,462.97 388.7,460.6 C389.05,458.23 389.25,456.48 389.8,455.1 C390.35,453.72 391.08,452.83 392,452.3 C392.92,451.77 394.02,451.68 395.3,451.9 C396.58,452.12 398.25,452.95 399.7,453.6 C401.15,454.25 402.55,454.82 404,455.8 C405.45,456.78 406.93,458.63 408.4,459.5 C409.87,460.37 411.33,460.53 412.8,461 C414.27,461.47 415.75,462 417.2,462.3 C418.65,462.6 420.05,462.8 421.5,462.8 C422.95,462.8 424.43,462.48 425.9,462.3 C427.37,462.12 429.07,461.93 430.3,461.7 C431.53,461.46 432.3,461.19 433.3,460.89 C434.3,460.59 435.3,460.26 436.3,459.91 C437.3,459.55 438.3,459.16 439.3,458.75 C440.3,458.34 441.3,457.9 442.3,457.42 C443.3,456.95 444.3,456.45 445.3,455.92 C446.3,455.39 447.3,454.83 448.3,454.25 C449.3,453.66 450.3,453.04 451.3,452.39 C452.3,451.74 453.3,451.06 454.3,450.36 C455.3,449.65 456.3,448.91 457.3,448.14 C458.3,447.37 459.3,446.57 460.3,445.74 C461.3,444.91 462.3,444.05 463.3,443.16 C464.3,442.27 465.3,441.35 466.3,440.4 C467.3,439.44 468.3,438.46 469.3,437.45 C470.3,436.43 471.3,435.38 472.3,434.31 C473.3,433.23 474.3,432.12 475.3,430.98 C476.3,429.84 477.3,428.66 478.3,427.46 C479.3,426.25 480.3,425.02 481.3,423.75 C482.3,422.48 483.3,421.18 484.3,419.84 C485.3,418.51 486.3,417.14 487.3,415.74 C488.3,414.34 489.3,412.91 490.3,411.45 C491.3,409.98 492.3,408.48 493.3,406.95 C494.3,405.42 495.3,403.85 496.3,402.26 C497.3,400.66 498.3,399.03 499.3,397.36 C500.3,395.7 501.3,394 502.3,392.26 C503.3,390.53 504.3,388.76 505.3,386.96 C506.3,385.16 507.3,383.33 508.3,381.46 C509.3,379.59 510.62,377.05 511.3,375.74 C511.98,374.43 511.42,375.14 512.4,373.6 C513.38,372.06 515.9,368.07 517.2,366.5 C518.5,364.93 519.32,364.68 520.2,364.2 C521.08,363.72 521.83,363.53 522.5,363.6 C523.17,363.67 523.8,363.92 524.2,364.6 C524.6,365.28 524.7,364.25 524.9,367.7 C525.1,371.15 525.28,376.47 525.4,385.3 C525.52,394.13 525.52,392.42 525.6,420.7 C525.68,448.98 525.85,532.62 525.9,555" fill="none" stroke="#F26ED5" stroke-width="1.6" stroke-linejoin="round" stroke-linecap="round" />
<line x1="57" y1="315.9" x2="88.1" y2="315.9" stroke="#EF8A92" stroke-width="1.4" />
<text transform="translate(90.4,320.9) scale(1.04,1)" font-size="13" text-anchor="start" font-weight="normal" fill="#1e1e1e" >P<tspan font-size="9.3" dy="3.5">1</tspan></text>
<line x1="57" y1="332.1" x2="88.1" y2="332.1" stroke="#89DAF7" stroke-width="1.4" />
<text transform="translate(90.4,337.1) scale(1.04,1)" font-size="13" text-anchor="start" font-weight="normal" fill="#1e1e1e" >P<tspan font-size="9.3" dy="3.5">2</tspan></text>
<line x1="57" y1="348.2" x2="88.1" y2="348.2" stroke="#F26ED5" stroke-width="1.4" />
<text transform="translate(90.4,353.2) scale(1.04,1)" font-size="13" text-anchor="start" font-weight="normal" fill="#1e1e1e" >P<tspan font-size="9.3" dy="3.5">3</tspan></text>
<line x1="391.3" y1="312.2" x2="421.8" y2="312.2" stroke="#EF8A92" stroke-width="1.4" />
<text transform="translate(423.5,317.2) scale(1.04,1)" font-size="13" text-anchor="start" font-weight="normal" fill="#1e1e1e" >P<tspan font-size="9.3" dy="3.5">1</tspan></text>
<line x1="391.3" y1="328.4" x2="421.8" y2="328.4" stroke="#89DAF7" stroke-width="1.4" />
<text transform="translate(423.5,333.4) scale(1.04,1)" font-size="13" text-anchor="start" font-weight="normal" fill="#1e1e1e" >P<tspan font-size="9.3" dy="3.5">2</tspan></text>
<line x1="391.3" y1="344.5" x2="421.8" y2="344.5" stroke="#F26ED5" stroke-width="1.4" />
<text transform="translate(423.5,349.5) scale(1.04,1)" font-size="13" text-anchor="start" font-weight="normal" fill="#1e1e1e" >P<tspan font-size="9.3" dy="3.5">3</tspan></text>
<text transform="translate(315.6,318.4) scale(1.045,1)" font-size="13" text-anchor="end" font-weight="normal" fill="#1e1e1e" >trans-rich</text>
<text transform="translate(659,319.9) scale(1.065,1)" font-size="13" text-anchor="end" font-weight="normal" fill="#1e1e1e" >cis-rich</text>
<text transform="translate(230,369.7) scale(1.05,1)" font-size="13" text-anchor="start" font-weight="normal" fill="#1e1e1e" >2.8 MPa</text>
<text transform="translate(534.5,377.4) scale(1.025,1)" font-size="13" text-anchor="start" font-weight="normal" fill="#1e1e1e" >3.12 MPa</text>
<text transform="translate(159,586.6) scale(1.06,1)" font-size="13" text-anchor="start" font-weight="normal" fill="#1e1e1e" >Strain (%)</text>
<text transform="translate(501,587.1) scale(1.065,1)" font-size="13" text-anchor="start" font-weight="normal" fill="#1e1e1e" >Strain (%)</text>
<text transform="translate(12.8,431) rotate(-90) scale(1.025,1)" font-size="13" text-anchor="middle" fill="#1e1e1e">Stress (MPa)</text>
<text transform="translate(355.3,430.6) rotate(-90) scale(1.025,1)" font-size="13" text-anchor="middle" fill="#1e1e1e">Stress (MPa)</text>
<defs><filter id="pblur" x="-5%" y="-5%" width="110%" height="110%"><feGaussianBlur stdDeviation="0.35"/></filter></defs>
<defs><linearGradient id="cyl" x1="0" x2="1" y1="0" y2="0"><stop offset="0" stop-color="#a09c82"/><stop offset="0.2" stop-color="#d2cfb6"/><stop offset="0.45" stop-color="#eeeee8"/><stop offset="0.7" stop-color="#e2e1d8"/><stop offset="1" stop-color="#a09e8c"/></linearGradient><linearGradient id="cyl2" x1="0" x2="1" y1="0" y2="0"><stop offset="0" stop-color="#a8a890"/><stop offset="0.3" stop-color="#deddcc"/><stop offset="0.6" stop-color="#ececE2"/><stop offset="1" stop-color="#a4a48e"/></linearGradient></defs>
<g filter="url(#pblur)"><g transform="translate(119.9,304) scale(0.27,0.57)"><rect x="0" y="0" width="100" height="100" fill="#2b2a27"/><rect x="22.8" y="0" width="53.3" height="19.6" fill="url(#cyl)"/><rect x="49" y="0" width="1.6" height="19.6" fill="#8a8a90" opacity="0.8"/><rect x="20" y="19.6" width="60" height="4.2" fill="#8e8c86"/><polygon points="1,23.8 99,23.8 88.2,43.7 10.7,43.7" fill="#c1c0c2"/><rect x="10.7" y="43.7" width="77.5" height="8.6" fill="#d3d3d5"/><rect x="10.7" y="51.5" width="77.5" height="1.4" fill="#9a9a9a"/><rect x="12.9" y="55.8" width="73.1" height="6.6" fill="#d0d0d2"/><polygon points="12.9,62.4 86,62.4 95.8,79.9 4.8,79.9" fill="#bfbfc1"/><path d="M37.5,34.1 L61.4,34.1 L59,39 L55,42 L44,42 L40,39 Z" fill="#0c0c0c"/><rect x="45.5" y="42" width="8" height="20.4" fill="#3a372a"/><rect x="47.5" y="44" width="4" height="16" fill="#8a7f55" opacity="0.6"/><path d="M44.5,62.4 L55,62.4 L58.5,67 L60.3,71.3 L38.6,71.3 L40.4,67 Z" fill="#0c0c0c"/><circle cx="20.6" cy="37.5" r="1.6" fill="#8a6a50"/><circle cx="78.7" cy="38.8" r="1.6" fill="#8a6a50"/><circle cx="22.8" cy="70.6" r="1.6" fill="#8a6a50"/><circle cx="76.1" cy="70.8" r="1.6" fill="#8a6a50"/><rect x="0" y="80" width="100" height="20" fill="#1f2018"/><rect x="22.8" y="80" width="53.3" height="20" fill="url(#cyl2)"/><rect x="26" y="92" width="47" height="2.4" fill="#6e6e66"/></g></g>
<g filter="url(#pblur)"><g transform="translate(186.2,304.2) scale(0.28,0.57)"><rect x="0" y="0" width="100" height="100" fill="#2a2a29"/><rect x="25.3" y="0" width="46.5" height="12.6" fill="url(#cyl)"/><rect x="49" y="0" width="1.6" height="12.6" fill="#8a8a90" opacity="0.8"/><rect x="20" y="12.6" width="58" height="3.8" fill="#6e6c68"/><polygon points="0.7,16.4 97.1,16.4 84,32.3 10.3,32.3" fill="#bebdbf"/><rect x="10.3" y="32.3" width="73.7" height="5.2" fill="#d2d2d4"/><path d="M36.8,23.9 L60.3,23.9 L58,29 L53,32 L45,32 L40,29 Z" fill="#0c0c0c"/><ellipse cx="48.4" cy="50.3" rx="36.8" ry="13.3" fill="#101010"/><rect x="48.6" y="32" width="2.6" height="37" fill="#5a5438"/><polygon points="18.4,68.1 81.6,68.1 92.1,84.5 9.4,84.5" fill="#bfbfc1"/><rect x="18.4" y="68.1" width="63.2" height="3.9" fill="#d4d4d6"/><path d="M46,71.4 L54,71.4 L58.5,75 L60.3,78.9 L39.7,78.9 L41.5,75 Z" fill="#0c0c0c"/><circle cx="22" cy="28.5" r="1.5" fill="#7a6a58"/><circle cx="78" cy="28.5" r="1.5" fill="#7a6a58"/><circle cx="24" cy="77" r="1.5" fill="#7a6a58"/><circle cx="76" cy="77" r="1.5" fill="#7a6a58"/><rect x="0" y="84.5" width="100" height="15.5" fill="#1c1d16"/><rect x="27.1" y="84.5" width="48.7" height="15.5" fill="url(#cyl2)"/><rect x="30" y="93" width="43" height="2" fill="#777770"/></g></g>
<line x1="149.2" y1="332.8" x2="177.9" y2="332.8" stroke="#8CC6F3" stroke-width="2.6"/>
<polygon points="176.9,329 184.4,332.8 176.9,336.6" fill="#8CC6F3"/>
<g filter="url(#pblur)"><g transform="translate(452.9,304.9) scale(0.3,0.57)"><rect x="0" y="0" width="100" height="100" fill="#2b2a27"/><rect x="22.8" y="0" width="53.3" height="19.6" fill="url(#cyl)"/><rect x="49" y="0" width="1.6" height="19.6" fill="#8a8a90" opacity="0.8"/><rect x="20" y="19.6" width="60" height="4.2" fill="#8e8c86"/><polygon points="1,23.8 99,23.8 88.2,43.7 10.7,43.7" fill="#c1c0c2"/><rect x="10.7" y="43.7" width="77.5" height="8.6" fill="#d3d3d5"/><rect x="10.7" y="51.5" width="77.5" height="1.4" fill="#9a9a9a"/><rect x="12.9" y="55.8" width="73.1" height="6.6" fill="#d0d0d2"/><polygon points="12.9,62.4 86,62.4 95.8,79.9 4.8,79.9" fill="#bfbfc1"/><path d="M37.5,34.1 L61.4,34.1 L59,39 L55,42 L44,42 L40,39 Z" fill="#0c0c0c"/><rect x="45.5" y="42" width="8" height="20.4" fill="#3a372a"/><rect x="47.5" y="44" width="4" height="16" fill="#8a7f55" opacity="0.6"/><path d="M44.5,62.4 L55,62.4 L58.5,67 L60.3,71.3 L38.6,71.3 L40.4,67 Z" fill="#0c0c0c"/><circle cx="20.6" cy="37.5" r="1.6" fill="#8a6a50"/><circle cx="78.7" cy="38.8" r="1.6" fill="#8a6a50"/><circle cx="22.8" cy="70.6" r="1.6" fill="#8a6a50"/><circle cx="76.1" cy="70.8" r="1.6" fill="#8a6a50"/><rect x="0" y="80" width="100" height="20" fill="#1f2018"/><rect x="22.8" y="80" width="53.3" height="20" fill="url(#cyl2)"/><rect x="26" y="92" width="47" height="2.4" fill="#6e6e66"/></g></g>
<g filter="url(#pblur)"><g transform="translate(520.2,304.9) scale(0.3,0.57)"><rect x="0" y="0" width="100" height="100" fill="#2a2a29"/><rect x="25.3" y="0" width="46.5" height="12.6" fill="url(#cyl)"/><rect x="49" y="0" width="1.6" height="12.6" fill="#8a8a90" opacity="0.8"/><rect x="20" y="12.6" width="58" height="3.8" fill="#6e6c68"/><polygon points="0.7,16.4 97.1,16.4 84,32.3 10.3,32.3" fill="#bebdbf"/><rect x="10.3" y="32.3" width="73.7" height="5.2" fill="#d2d2d4"/><path d="M36.8,23.9 L60.3,23.9 L58,29 L53,32 L45,32 L40,29 Z" fill="#0c0c0c"/><ellipse cx="48.4" cy="50.3" rx="36.8" ry="13.3" fill="#101010"/><rect x="48.6" y="32" width="2.6" height="37" fill="#5a5438"/><polygon points="18.4,68.1 81.6,68.1 92.1,84.5 9.4,84.5" fill="#bfbfc1"/><rect x="18.4" y="68.1" width="63.2" height="3.9" fill="#d4d4d6"/><path d="M46,71.4 L54,71.4 L58.5,75 L60.3,78.9 L39.7,78.9 L41.5,75 Z" fill="#0c0c0c"/><circle cx="22" cy="28.5" r="1.5" fill="#7a6a58"/><circle cx="78" cy="28.5" r="1.5" fill="#7a6a58"/><circle cx="24" cy="77" r="1.5" fill="#7a6a58"/><circle cx="76" cy="77" r="1.5" fill="#7a6a58"/><rect x="0" y="84.5" width="100" height="15.5" fill="#1c1d16"/><rect x="27.1" y="84.5" width="48.7" height="15.5" fill="url(#cyl2)"/><rect x="30" y="93" width="43" height="2" fill="#777770"/></g></g>
<line x1="483.8" y1="332.9" x2="512.7" y2="332.9" stroke="#8CC6F3" stroke-width="2.6"/>
<polygon points="511.7,329.1 519.2,332.9 511.7,336.7" fill="#8CC6F3"/>
</svg></body></html>
